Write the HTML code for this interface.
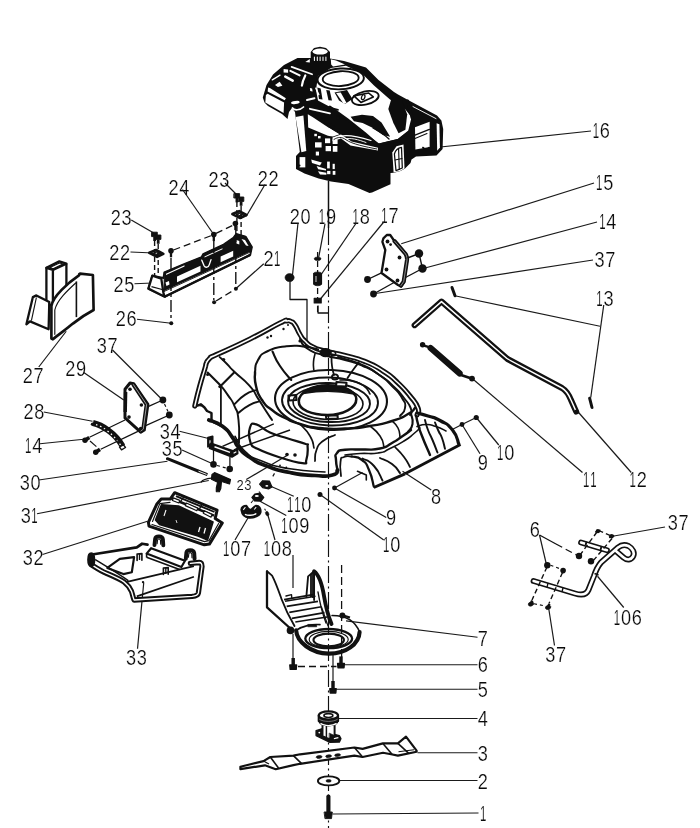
<!DOCTYPE html>
<html><head><meta charset="utf-8"><title>Exploded parts diagram</title>
<style>
html,body{margin:0;padding:0;background:#fff;font-family:"Liberation Sans",sans-serif;}
svg{display:block}
svg text{font-family:"Liberation Sans",sans-serif;}
</style></head><body>
<svg width="700" height="828" viewBox="0 0 700 828">
<rect width="700" height="828" fill="#fff"/>
<defs><filter id="idf" x="0" y="0" width="700" height="828" filterUnits="userSpaceOnUse" color-interpolation-filters="sRGB"><feOffset dx="0" dy="0"/></filter></defs>
<g id="p_labels">
<g id="lblgrp" filter="url(#idf)">
<text y="137.80" font-size="21.40" fill="#0a0a0a" stroke="#fff" stroke-width="0.220"><tspan x="592.69" textLength="6.34" lengthAdjust="spacingAndGlyphs">1</tspan><tspan x="599.87" textLength="10.11" lengthAdjust="spacingAndGlyphs">6</tspan></text>
<text y="190.00" font-size="21.40" fill="#0a0a0a" stroke="#fff" stroke-width="0.220"><tspan x="595.99" textLength="6.34" lengthAdjust="spacingAndGlyphs">1</tspan><tspan x="603.17" textLength="10.11" lengthAdjust="spacingAndGlyphs">5</tspan></text>
<text y="229.10" font-size="21.40" fill="#0a0a0a" stroke="#fff" stroke-width="0.220"><tspan x="599.19" textLength="6.34" lengthAdjust="spacingAndGlyphs">1</tspan><tspan x="606.37" textLength="10.11" lengthAdjust="spacingAndGlyphs">4</tspan></text>
<text y="267.20" font-size="21.40" fill="#0a0a0a" stroke="#fff" stroke-width="0.220"><tspan x="594.58" textLength="10.11" lengthAdjust="spacingAndGlyphs">3</tspan><tspan x="605.25" textLength="10.11" lengthAdjust="spacingAndGlyphs">7</tspan></text>
<text y="306.25" font-size="21.40" fill="#0a0a0a" stroke="#fff" stroke-width="0.220"><tspan x="596.34" textLength="6.34" lengthAdjust="spacingAndGlyphs">1</tspan><tspan x="603.52" textLength="10.11" lengthAdjust="spacingAndGlyphs">3</tspan></text>
<text y="460.00" font-size="21.40" fill="#0a0a0a" stroke="#fff" stroke-width="0.220"><tspan x="497.09" textLength="6.34" lengthAdjust="spacingAndGlyphs">1</tspan><tspan x="504.27" textLength="10.11" lengthAdjust="spacingAndGlyphs">0</tspan></text>
<text y="469.50" font-size="21.40" fill="#0a0a0a" stroke="#fff" stroke-width="0.220"><tspan x="477.78" textLength="10.11" lengthAdjust="spacingAndGlyphs">9</tspan></text>
<text y="503.75" font-size="21.40" fill="#0a0a0a" stroke="#fff" stroke-width="0.220"><tspan x="431.03" textLength="10.11" lengthAdjust="spacingAndGlyphs">8</tspan></text>
<text y="487.00" font-size="21.40" fill="#0a0a0a" stroke="#fff" stroke-width="0.220"><tspan x="583.09" textLength="6.34" lengthAdjust="spacingAndGlyphs">1</tspan><tspan x="590.18" textLength="6.34" lengthAdjust="spacingAndGlyphs">1</tspan></text>
<text y="487.00" font-size="21.40" fill="#0a0a0a" stroke="#fff" stroke-width="0.220"><tspan x="629.59" textLength="6.34" lengthAdjust="spacingAndGlyphs">1</tspan><tspan x="636.77" textLength="10.11" lengthAdjust="spacingAndGlyphs">2</tspan></text>
<text y="525.00" font-size="21.40" fill="#0a0a0a" stroke="#fff" stroke-width="0.220"><tspan x="386.03" textLength="10.11" lengthAdjust="spacingAndGlyphs">9</tspan></text>
<text y="552.00" font-size="21.40" fill="#0a0a0a" stroke="#fff" stroke-width="0.220"><tspan x="383.09" textLength="6.34" lengthAdjust="spacingAndGlyphs">1</tspan><tspan x="390.27" textLength="10.11" lengthAdjust="spacingAndGlyphs">0</tspan></text>
<text y="530.00" font-size="21.40" fill="#0a0a0a" stroke="#fff" stroke-width="0.220"><tspan x="667.78" textLength="10.11" lengthAdjust="spacingAndGlyphs">3</tspan><tspan x="678.45" textLength="10.11" lengthAdjust="spacingAndGlyphs">7</tspan></text>
<text y="537.00" font-size="21.40" fill="#0a0a0a" stroke="#fff" stroke-width="0.220"><tspan x="529.78" textLength="10.11" lengthAdjust="spacingAndGlyphs">6</tspan></text>
<text y="625.00" font-size="21.40" fill="#0a0a0a" stroke="#fff" stroke-width="0.220"><tspan x="613.84" textLength="6.34" lengthAdjust="spacingAndGlyphs">1</tspan><tspan x="621.02" textLength="10.11" lengthAdjust="spacingAndGlyphs">0</tspan><tspan x="631.69" textLength="10.11" lengthAdjust="spacingAndGlyphs">6</tspan></text>
<text y="662.00" font-size="21.40" fill="#0a0a0a" stroke="#fff" stroke-width="0.220"><tspan x="545.28" textLength="10.11" lengthAdjust="spacingAndGlyphs">3</tspan><tspan x="555.95" textLength="10.11" lengthAdjust="spacingAndGlyphs">7</tspan></text>
<text y="645.50" font-size="21.40" fill="#0a0a0a" stroke="#fff" stroke-width="0.220"><tspan x="477.78" textLength="10.11" lengthAdjust="spacingAndGlyphs">7</tspan></text>
<text y="672.25" font-size="21.40" fill="#0a0a0a" stroke="#fff" stroke-width="0.220"><tspan x="477.78" textLength="10.11" lengthAdjust="spacingAndGlyphs">6</tspan></text>
<text y="697.25" font-size="21.40" fill="#0a0a0a" stroke="#fff" stroke-width="0.220"><tspan x="477.78" textLength="10.11" lengthAdjust="spacingAndGlyphs">5</tspan></text>
<text y="726.00" font-size="21.40" fill="#0a0a0a" stroke="#fff" stroke-width="0.220"><tspan x="477.78" textLength="10.11" lengthAdjust="spacingAndGlyphs">4</tspan></text>
<text y="761.00" font-size="21.40" fill="#0a0a0a" stroke="#fff" stroke-width="0.220"><tspan x="477.78" textLength="10.11" lengthAdjust="spacingAndGlyphs">3</tspan></text>
<text y="788.50" font-size="21.40" fill="#0a0a0a" stroke="#fff" stroke-width="0.220"><tspan x="477.78" textLength="10.11" lengthAdjust="spacingAndGlyphs">2</tspan></text>
<text y="821.00" font-size="21.40" fill="#0a0a0a" stroke="#fff" stroke-width="0.220"><tspan x="480.09" textLength="6.34" lengthAdjust="spacingAndGlyphs">1</tspan></text>
<text y="665.00" font-size="21.40" fill="#0a0a0a" stroke="#fff" stroke-width="0.220"><tspan x="126.03" textLength="10.11" lengthAdjust="spacingAndGlyphs">3</tspan><tspan x="136.70" textLength="10.11" lengthAdjust="spacingAndGlyphs">3</tspan></text>
<text y="565.00" font-size="21.40" fill="#0a0a0a" stroke="#fff" stroke-width="0.220"><tspan x="22.78" textLength="10.11" lengthAdjust="spacingAndGlyphs">3</tspan><tspan x="33.45" textLength="10.11" lengthAdjust="spacingAndGlyphs">2</tspan></text>
<text y="523.00" font-size="21.40" fill="#0a0a0a" stroke="#fff" stroke-width="0.220"><tspan x="20.78" textLength="10.11" lengthAdjust="spacingAndGlyphs">3</tspan><tspan x="31.35" textLength="6.34" lengthAdjust="spacingAndGlyphs">1</tspan></text>
<text y="489.50" font-size="21.40" fill="#0a0a0a" stroke="#fff" stroke-width="0.220"><tspan x="19.78" textLength="10.11" lengthAdjust="spacingAndGlyphs">3</tspan><tspan x="30.45" textLength="10.11" lengthAdjust="spacingAndGlyphs">0</tspan></text>
<text y="452.50" font-size="21.40" fill="#0a0a0a" stroke="#fff" stroke-width="0.220"><tspan x="25.09" textLength="6.34" lengthAdjust="spacingAndGlyphs">1</tspan><tspan x="32.27" textLength="10.11" lengthAdjust="spacingAndGlyphs">4</tspan></text>
<text y="418.75" font-size="21.40" fill="#0a0a0a" stroke="#fff" stroke-width="0.220"><tspan x="23.53" textLength="10.11" lengthAdjust="spacingAndGlyphs">2</tspan><tspan x="34.20" textLength="10.11" lengthAdjust="spacingAndGlyphs">8</tspan></text>
<text y="376.00" font-size="21.40" fill="#0a0a0a" stroke="#fff" stroke-width="0.220"><tspan x="65.28" textLength="10.11" lengthAdjust="spacingAndGlyphs">2</tspan><tspan x="75.95" textLength="10.11" lengthAdjust="spacingAndGlyphs">9</tspan></text>
<text y="352.50" font-size="21.40" fill="#0a0a0a" stroke="#fff" stroke-width="0.220"><tspan x="96.78" textLength="10.11" lengthAdjust="spacingAndGlyphs">3</tspan><tspan x="107.45" textLength="10.11" lengthAdjust="spacingAndGlyphs">7</tspan></text>
<text y="382.50" font-size="21.40" fill="#0a0a0a" stroke="#fff" stroke-width="0.220"><tspan x="22.78" textLength="10.11" lengthAdjust="spacingAndGlyphs">2</tspan><tspan x="33.45" textLength="10.11" lengthAdjust="spacingAndGlyphs">7</tspan></text>
<text y="325.50" font-size="21.40" fill="#0a0a0a" stroke="#fff" stroke-width="0.220"><tspan x="115.78" textLength="10.11" lengthAdjust="spacingAndGlyphs">2</tspan><tspan x="126.45" textLength="10.11" lengthAdjust="spacingAndGlyphs">6</tspan></text>
<text y="292.00" font-size="21.40" fill="#0a0a0a" stroke="#fff" stroke-width="0.220"><tspan x="113.53" textLength="10.11" lengthAdjust="spacingAndGlyphs">2</tspan><tspan x="124.20" textLength="10.11" lengthAdjust="spacingAndGlyphs">5</tspan></text>
<text y="259.50" font-size="21.40" fill="#0a0a0a" stroke="#fff" stroke-width="0.220"><tspan x="109.28" textLength="10.11" lengthAdjust="spacingAndGlyphs">2</tspan><tspan x="119.95" textLength="10.11" lengthAdjust="spacingAndGlyphs">2</tspan></text>
<text y="225.00" font-size="21.40" fill="#0a0a0a" stroke="#fff" stroke-width="0.220"><tspan x="110.78" textLength="10.11" lengthAdjust="spacingAndGlyphs">2</tspan><tspan x="121.45" textLength="10.11" lengthAdjust="spacingAndGlyphs">3</tspan></text>
<text y="194.50" font-size="21.40" fill="#0a0a0a" stroke="#fff" stroke-width="0.220"><tspan x="168.53" textLength="10.11" lengthAdjust="spacingAndGlyphs">2</tspan><tspan x="179.20" textLength="10.11" lengthAdjust="spacingAndGlyphs">4</tspan></text>
<text y="187.00" font-size="21.40" fill="#0a0a0a" stroke="#fff" stroke-width="0.220"><tspan x="208.53" textLength="10.11" lengthAdjust="spacingAndGlyphs">2</tspan><tspan x="219.20" textLength="10.11" lengthAdjust="spacingAndGlyphs">3</tspan></text>
<text y="186.00" font-size="21.40" fill="#0a0a0a" stroke="#fff" stroke-width="0.220"><tspan x="257.78" textLength="10.11" lengthAdjust="spacingAndGlyphs">2</tspan><tspan x="268.45" textLength="10.11" lengthAdjust="spacingAndGlyphs">2</tspan></text>
<text y="265.50" font-size="21.40" fill="#0a0a0a" stroke="#fff" stroke-width="0.220"><tspan x="263.53" textLength="10.11" lengthAdjust="spacingAndGlyphs">2</tspan><tspan x="274.10" textLength="6.34" lengthAdjust="spacingAndGlyphs">1</tspan></text>
<text y="223.75" font-size="21.40" fill="#0a0a0a" stroke="#fff" stroke-width="0.220"><tspan x="289.78" textLength="10.11" lengthAdjust="spacingAndGlyphs">2</tspan><tspan x="300.45" textLength="10.11" lengthAdjust="spacingAndGlyphs">0</tspan></text>
<text y="223.75" font-size="21.40" fill="#0a0a0a" stroke="#fff" stroke-width="0.220"><tspan x="318.84" textLength="6.34" lengthAdjust="spacingAndGlyphs">1</tspan><tspan x="326.02" textLength="10.11" lengthAdjust="spacingAndGlyphs">9</tspan></text>
<text y="223.75" font-size="21.40" fill="#0a0a0a" stroke="#fff" stroke-width="0.220"><tspan x="352.59" textLength="6.34" lengthAdjust="spacingAndGlyphs">1</tspan><tspan x="359.77" textLength="10.11" lengthAdjust="spacingAndGlyphs">8</tspan></text>
<text y="222.50" font-size="21.40" fill="#0a0a0a" stroke="#fff" stroke-width="0.220"><tspan x="381.34" textLength="6.34" lengthAdjust="spacingAndGlyphs">1</tspan><tspan x="388.52" textLength="10.11" lengthAdjust="spacingAndGlyphs">7</tspan></text>
<text y="438.75" font-size="21.40" fill="#0a0a0a" stroke="#fff" stroke-width="0.220"><tspan x="159.78" textLength="10.11" lengthAdjust="spacingAndGlyphs">3</tspan><tspan x="170.45" textLength="10.11" lengthAdjust="spacingAndGlyphs">4</tspan></text>
<text y="456.25" font-size="21.40" fill="#0a0a0a" stroke="#fff" stroke-width="0.220"><tspan x="161.78" textLength="10.11" lengthAdjust="spacingAndGlyphs">3</tspan><tspan x="172.45" textLength="10.11" lengthAdjust="spacingAndGlyphs">5</tspan></text>
<text y="512.00" font-size="21.40" fill="#0a0a0a" stroke="#fff" stroke-width="0.220"><tspan x="287.09" textLength="6.34" lengthAdjust="spacingAndGlyphs">1</tspan><tspan x="294.18" textLength="6.34" lengthAdjust="spacingAndGlyphs">1</tspan><tspan x="301.36" textLength="10.11" lengthAdjust="spacingAndGlyphs">0</tspan></text>
<text y="532.50" font-size="21.40" fill="#0a0a0a" stroke="#fff" stroke-width="0.220"><tspan x="281.34" textLength="6.34" lengthAdjust="spacingAndGlyphs">1</tspan><tspan x="288.52" textLength="10.11" lengthAdjust="spacingAndGlyphs">0</tspan><tspan x="299.19" textLength="10.11" lengthAdjust="spacingAndGlyphs">9</tspan></text>
<text y="556.25" font-size="21.40" fill="#0a0a0a" stroke="#fff" stroke-width="0.220"><tspan x="223.09" textLength="6.34" lengthAdjust="spacingAndGlyphs">1</tspan><tspan x="230.27" textLength="10.11" lengthAdjust="spacingAndGlyphs">0</tspan><tspan x="240.94" textLength="10.11" lengthAdjust="spacingAndGlyphs">7</tspan></text>
<text y="556.25" font-size="21.40" fill="#0a0a0a" stroke="#fff" stroke-width="0.220"><tspan x="263.84" textLength="6.34" lengthAdjust="spacingAndGlyphs">1</tspan><tspan x="271.02" textLength="10.11" lengthAdjust="spacingAndGlyphs">0</tspan><tspan x="281.69" textLength="10.11" lengthAdjust="spacingAndGlyphs">8</tspan></text>
<text y="489.50" font-size="15.34" fill="#0a0a0a" stroke="#fff" stroke-width="0.158"><tspan x="236.59" textLength="7.25" lengthAdjust="spacingAndGlyphs">2</tspan><tspan x="244.24" textLength="7.25" lengthAdjust="spacingAndGlyphs">3</tspan></text>
</g>
<line x1="431" y1="148" x2="591" y2="131" stroke="#1a1a1a" stroke-width="1.2075" stroke-linecap="butt"/>
<line x1="401.25" y1="243.75" x2="594" y2="183" stroke="#1a1a1a" stroke-width="1.2075" stroke-linecap="butt"/>
<line x1="425" y1="268" x2="597" y2="222" stroke="#1a1a1a" stroke-width="1.2075" stroke-linecap="butt"/>
<line x1="373.75" y1="293.75" x2="593" y2="260" stroke="#1a1a1a" stroke-width="1.2075" stroke-linecap="butt"/>
<line x1="603.75" y1="305" x2="590.75" y2="397.5" stroke="#1a1a1a" stroke-width="1.2075" stroke-linecap="butt"/>
<line x1="600" y1="326.25" x2="456" y2="296" stroke="#1a1a1a" stroke-width="1.2075" stroke-linecap="butt"/>
<line x1="498.75" y1="445" x2="476.25" y2="417.5" stroke="#1a1a1a" stroke-width="1.2075" stroke-linecap="butt"/>
<line x1="480" y1="453.75" x2="462" y2="424.5" stroke="#1a1a1a" stroke-width="1.2075" stroke-linecap="butt"/>
<line x1="462" y1="424.5" x2="476.25" y2="417.5" stroke="#1a1a1a" stroke-width="1.2075" stroke-linecap="butt"/>
<line x1="462" y1="424.5" x2="451.25" y2="430" stroke="#1a1a1a" stroke-width="1.2075" stroke-linecap="butt"/>
<line x1="431.25" y1="490" x2="402.5" y2="471.25" stroke="#1a1a1a" stroke-width="1.2075" stroke-linecap="butt"/>
<line x1="582.5" y1="472.5" x2="472.5" y2="378.75" stroke="#1a1a1a" stroke-width="1.2075" stroke-linecap="butt"/>
<line x1="631.25" y1="472.5" x2="577.5" y2="411.25" stroke="#1a1a1a" stroke-width="1.2075" stroke-linecap="butt"/>
<line x1="386.25" y1="517.5" x2="334.5" y2="488" stroke="#1a1a1a" stroke-width="1.2075" stroke-linecap="butt"/>
<line x1="334.5" y1="488" x2="362.5" y2="472.5" stroke="#1a1a1a" stroke-width="1.2075" stroke-linecap="butt"/>
<line x1="383.75" y1="540" x2="320" y2="494.5" stroke="#1a1a1a" stroke-width="1.2075" stroke-linecap="butt"/>
<line x1="665" y1="527" x2="612.5" y2="536.25" stroke="#1a1a1a" stroke-width="1.2075" stroke-linecap="butt"/>
<line x1="539.5" y1="535" x2="546.25" y2="563.75" stroke="#1a1a1a" stroke-width="1.2075" stroke-linecap="butt"/>
<line x1="623.75" y1="607.5" x2="597.5" y2="576.25" stroke="#1a1a1a" stroke-width="1.2075" stroke-linecap="butt"/>
<line x1="554.5" y1="645.5" x2="548.75" y2="608.75" stroke="#1a1a1a" stroke-width="1.2075" stroke-linecap="butt"/>
<line x1="477.5" y1="637.25" x2="346" y2="620.8" stroke="#1a1a1a" stroke-width="1.2075" stroke-linecap="butt"/>
<line x1="477.5" y1="664.75" x2="345" y2="664.75" stroke="#1a1a1a" stroke-width="1.2075" stroke-linecap="butt"/>
<line x1="477.5" y1="689.25" x2="336.25" y2="689.25" stroke="#1a1a1a" stroke-width="1.2075" stroke-linecap="butt"/>
<line x1="477.5" y1="718.5" x2="338.75" y2="718.5" stroke="#1a1a1a" stroke-width="1.2075" stroke-linecap="butt"/>
<line x1="477.5" y1="752.75" x2="417.5" y2="752.75" stroke="#1a1a1a" stroke-width="1.2075" stroke-linecap="butt"/>
<line x1="477.5" y1="780.5" x2="338.75" y2="780.5" stroke="#1a1a1a" stroke-width="1.2075" stroke-linecap="butt"/>
<line x1="478.5" y1="813" x2="332.5" y2="814" stroke="#1a1a1a" stroke-width="1.2075" stroke-linecap="butt"/>
<line x1="137.5" y1="648.75" x2="143.75" y2="582.5" stroke="#1a1a1a" stroke-width="1.2075" stroke-linecap="butt"/>
<line x1="42.5" y1="554.5" x2="147.5" y2="521.25" stroke="#1a1a1a" stroke-width="1.2075" stroke-linecap="butt"/>
<line x1="37" y1="513.75" x2="208.75" y2="480.5" stroke="#1a1a1a" stroke-width="1.2075" stroke-linecap="butt"/>
<line x1="38.75" y1="480" x2="167.5" y2="461.25" stroke="#1a1a1a" stroke-width="1.2075" stroke-linecap="butt"/>
<line x1="40" y1="443.75" x2="83.75" y2="439.25" stroke="#1a1a1a" stroke-width="1.2075" stroke-linecap="butt"/>
<line x1="43.75" y1="412" x2="92.5" y2="421.25" stroke="#1a1a1a" stroke-width="1.2075" stroke-linecap="butt"/>
<line x1="83.75" y1="372.5" x2="123.75" y2="400" stroke="#1a1a1a" stroke-width="1.2075" stroke-linecap="butt"/>
<line x1="112.5" y1="350" x2="162.5" y2="400" stroke="#1a1a1a" stroke-width="1.2075" stroke-linecap="butt"/>
<line x1="38.75" y1="367" x2="66.25" y2="331.25" stroke="#1a1a1a" stroke-width="1.2075" stroke-linecap="butt"/>
<line x1="137" y1="319.25" x2="171.25" y2="323.25" stroke="#1a1a1a" stroke-width="1.2075" stroke-linecap="butt"/>
<line x1="134.5" y1="283.75" x2="152.5" y2="283" stroke="#1a1a1a" stroke-width="1.2075" stroke-linecap="butt"/>
<line x1="130.5" y1="252" x2="153.75" y2="253" stroke="#1a1a1a" stroke-width="1.2075" stroke-linecap="butt"/>
<line x1="131.25" y1="220" x2="153.75" y2="233" stroke="#1a1a1a" stroke-width="1.2075" stroke-linecap="butt"/>
<line x1="182.5" y1="189.5" x2="213.75" y2="234.5" stroke="#1a1a1a" stroke-width="1.2075" stroke-linecap="butt"/>
<line x1="225" y1="183" x2="237" y2="195" stroke="#1a1a1a" stroke-width="1.2075" stroke-linecap="butt"/>
<line x1="265" y1="184.5" x2="246.25" y2="216.25" stroke="#1a1a1a" stroke-width="1.2075" stroke-linecap="butt"/>
<line x1="263.75" y1="263.75" x2="235.75" y2="288.75" stroke="#1a1a1a" stroke-width="1.2075" stroke-linecap="butt"/>
<line x1="298" y1="223" x2="292.5" y2="275" stroke="#1a1a1a" stroke-width="1.2075" stroke-linecap="butt"/>
<line x1="325" y1="223.75" x2="318.75" y2="257" stroke="#1a1a1a" stroke-width="1.2075" stroke-linecap="butt"/>
<line x1="356.25" y1="223" x2="320" y2="276.25" stroke="#1a1a1a" stroke-width="1.2075" stroke-linecap="butt"/>
<line x1="383.75" y1="222" x2="320" y2="299.5" stroke="#1a1a1a" stroke-width="1.2075" stroke-linecap="butt"/>
<line x1="179.5" y1="431.25" x2="209.5" y2="438.75" stroke="#1a1a1a" stroke-width="1.2075" stroke-linecap="butt"/>
<line x1="182" y1="450" x2="212.5" y2="463.75" stroke="#1a1a1a" stroke-width="1.2075" stroke-linecap="butt"/>
<line x1="246.25" y1="479.5" x2="287" y2="455.5" stroke="#1a1a1a" stroke-width="1.2075" stroke-linecap="butt"/>
<line x1="293.75" y1="496.25" x2="269.5" y2="485.75" stroke="#1a1a1a" stroke-width="1.2075" stroke-linecap="butt"/>
<line x1="286.25" y1="515.5" x2="260" y2="501.25" stroke="#1a1a1a" stroke-width="1.2075" stroke-linecap="butt"/>
<line x1="235" y1="540" x2="248.25" y2="517.5" stroke="#1a1a1a" stroke-width="1.2075" stroke-linecap="butt"/>
<line x1="275" y1="540" x2="267.5" y2="513.75" stroke="#1a1a1a" stroke-width="1.2075" stroke-linecap="butt"/>
</g>
<g id="p_engine">
<path d="M310.7,58 L297.5,58 L284,65 L273,74.5 L266.5,85 L262.8,97.5 L264.5,102.5 L268,106 L282,114 L287.5,119 L289,112 L292,108 L295,112 L299.8,152 L296,156 L296,169 L304.5,173.5 L318.6,178.5 L331,181.5 L348.5,184 L369.5,193 L372,192.6 L390.5,184.2 L390.5,173 L394,172.8 L400.5,171 L405,168.6 L410.5,163 L411.5,159.5 L416,156.5 L436.5,155.5 L442.6,149 L443.2,129 L441.4,120.5 L437,115.6 L409,100.6 L398,94.6 L394,92 L378.5,80 L366,67.5 L344,61 L330,58.5 L330,52 L326,48 L320,46.8 L314,48 L310.7,52 Z" fill="#0d0d0d" stroke="none" stroke-width="0.0" stroke-linejoin="round" stroke-linecap="round"/>
<ellipse cx="320.1" cy="51.6" rx="7.6" ry="3.0" fill="#fff" stroke="none" stroke-width="0.0"/>
<line x1="314.4" y1="57" x2="314.4" y2="60.4" stroke="#fff" stroke-width="1.035" stroke-linecap="round"/>
<line x1="317.3" y1="57" x2="317.3" y2="60.4" stroke="#fff" stroke-width="1.035" stroke-linecap="round"/>
<line x1="320.1" y1="57" x2="320.1" y2="60.4" stroke="#fff" stroke-width="1.035" stroke-linecap="round"/>
<line x1="323" y1="57" x2="323" y2="60.4" stroke="#fff" stroke-width="1.035" stroke-linecap="round"/>
<line x1="325.9" y1="57" x2="325.9" y2="60.4" stroke="#fff" stroke-width="1.035" stroke-linecap="round"/>
<path d="M305.3,61.9 L309.8,58.9 L309.8,62.5 Z" fill="#fff" stroke="none" stroke-width="0.0" stroke-linejoin="round" stroke-linecap="round"/>
<path d="M330.8,59.2 L336,60.5 L345,64.5 L333,66.5 L331.2,64.6 Z" fill="#fff" stroke="none" stroke-width="0.0" stroke-linejoin="round" stroke-linecap="round"/>
<path d="M331,68 L346,65.8 L362,73.5 L374,85.5 L390,99.5 L405,109 L410.5,116 L411.5,122 L408.5,131 L398,139 L379,143.5 L366,134 L350,121 L333,108.5 L318,100.5 L316,90 L318,76 Z" fill="#fff" stroke="none" stroke-width="0.0" stroke-linejoin="round" stroke-linecap="round"/>
<ellipse cx="340.7" cy="78.9" rx="23.2" ry="10.4" fill="#fff" stroke="#0d0d0d" stroke-width="1.9549999999999998" transform="rotate(-3 340.7 78.9)"/>
<ellipse cx="340.7" cy="78.6" rx="18.0" ry="7.4" fill="#fff" stroke="#0d0d0d" stroke-width="1.8399999999999999" transform="rotate(-3 340.7 78.6)"/>
<path d="M334.5,92.5 L347,90 L352.5,99 L345,104 L339,100.5 Z" fill="#0d0d0d" stroke="none" stroke-width="0.0" stroke-linejoin="round" stroke-linecap="round"/>
<path d="M336.1,92.9 L340.7,92.6 L346.6,103.1 L343.8,103.9 Z" fill="#fff" stroke="none" stroke-width="0.0" stroke-linejoin="round" stroke-linecap="round"/>
<path d="M317.3,87.5 L320.7,88.5 L322.5,99.5 L319,99 Z" fill="#0d0d0d" stroke="none" stroke-width="0.0" stroke-linejoin="round" stroke-linecap="round"/>
<path d="M326.2,90 L329.7,90.5 L332,100.5 L328.5,100.3 Z" fill="#0d0d0d" stroke="none" stroke-width="0.0" stroke-linejoin="round" stroke-linecap="round"/>
<ellipse cx="365.3" cy="98" rx="13.6" ry="6.6" fill="#fff" stroke="#0d0d0d" stroke-width="1.8399999999999999" transform="rotate(-12 365.3 98)"/>
<path d="M353.9,95.9 L368.7,93 L373.3,96.9 L360.9,102.4 Z" fill="#fff" stroke="#0d0d0d" stroke-width="1.6099999999999999" stroke-linejoin="round" stroke-linecap="round"/>
<ellipse cx="363.2" cy="97.2" rx="1.6" ry="2.6" fill="#fff" stroke="#0d0d0d" stroke-width="1.265" transform="rotate(20 363.2 97.2)"/>
<line x1="315" y1="104" x2="338" y2="109.8" stroke="#0d0d0d" stroke-width="1.8399999999999999" stroke-linecap="round"/>
<line x1="315" y1="116.5" x2="332" y2="130" stroke="#0d0d0d" stroke-width="2.76" stroke-linecap="round"/>
<path d="M336,115.5 L339.5,115.5 L339.5,119 L336,119 Z" fill="#0d0d0d" stroke="none" stroke-width="0.0" stroke-linejoin="round" stroke-linecap="round"/>
<path d="M350.6,116.7 L362,114.8 L373,116 L381.5,122.5 L390.2,136.8 L383,135 L373,128 L362.6,123 L354,121.3 Z" fill="#0d0d0d" stroke="none" stroke-width="0.0" stroke-linejoin="round" stroke-linecap="round"/>
<path d="M388.3,109.1 L391,100 L394,96.3 L402,100.6 L407.2,114.3 L405.4,129.7 L398.6,133.3 L393.4,122.9 Z" fill="#0d0d0d" stroke="none" stroke-width="0.0" stroke-linejoin="round" stroke-linecap="round"/>
<path d="M373,128 C380,132 386,136 389,139" fill="none" stroke="#0d0d0d" stroke-width="1.38" stroke-linejoin="round" stroke-linecap="round" />
<path d="M330,107.2 L347,119.4 L364.3,133.1 L378,145.2 L398.6,140.2 L409.6,131.4 L412.6,119.4 L407.6,101" fill="none" stroke="#0d0d0d" stroke-width="2.9899999999999998" stroke-linejoin="round" stroke-linecap="round" />
<path d="M268.1,87.4 L269.9,88 L285.9,98.3 L284.7,100.2 L267.6,91.6 Z" fill="#fff" stroke="none" stroke-width="0.0" stroke-linejoin="round" stroke-linecap="round"/>
<path d="M265.9,95 L267.6,93.8 L284.1,102.4 L283.6,113 L265.3,102.4 Z" fill="#fff" stroke="none" stroke-width="0.0" stroke-linejoin="round" stroke-linecap="round"/>
<line x1="291.6" y1="66.9" x2="312.1" y2="74.3" stroke="#fff" stroke-width="1.7249999999999999" stroke-linecap="round"/>
<path d="M283.6,69.1 L288.1,69.6 L288.1,72.8 L283.6,72.4 Z" fill="#fff" stroke="none" stroke-width="0.0" stroke-linejoin="round" stroke-linecap="round"/>
<line x1="290.4" y1="70.9" x2="299.6" y2="75.4" stroke="#fff" stroke-width="2.07" stroke-linecap="round"/>
<line x1="285.3" y1="76.6" x2="292.7" y2="80.6" stroke="#fff" stroke-width="2.53" stroke-linecap="round"/>
<path d="M305.3,75.4 C303.5,79 302.3,82 301.9,85.7" fill="none" stroke="#fff" stroke-width="2.1849999999999996" stroke-linejoin="round" stroke-linecap="round" />
<line x1="272.3" y1="79.8" x2="280" y2="75.2" stroke="#fff" stroke-width="1.38" stroke-linecap="round"/>
<path d="M275,85.1 L279.6,81.7 L282.4,85.7 L277.9,86.9 Z" fill="#fff" stroke="none" stroke-width="0.0" stroke-linejoin="round" stroke-linecap="round"/>
<path d="M309.9,88 L312.1,88.5 L312.6,91.4 L310.2,91 Z" fill="#fff" stroke="none" stroke-width="0.0" stroke-linejoin="round" stroke-linecap="round"/>
<line x1="307" y1="100" x2="314.4" y2="98.3" stroke="#fff" stroke-width="2.07" stroke-linecap="round"/>
<line x1="315.8" y1="88.2" x2="318.8" y2="94.6" stroke="#fff" stroke-width="1.38" stroke-linecap="round"/>
<line x1="309.9" y1="108.8" x2="330" y2="113.3" stroke="#fff" stroke-width="1.8399999999999999" stroke-linecap="round"/>
<ellipse cx="295.3" cy="102.5" rx="4.4" ry="1.5" fill="#fff" stroke="none" stroke-width="0.0" transform="rotate(-8 295.3 102.5)"/>
<path d="M292.5,108 C294,110.5 300,110.5 303.5,107" fill="none" stroke="#fff" stroke-width="1.7249999999999999" stroke-linejoin="round" stroke-linecap="round" />
<path d="M295.6,117 L303.4,115.4 L306.3,151 L301.4,152.2 Z" fill="#fff" stroke="none" stroke-width="0.0" stroke-linejoin="round" stroke-linecap="round"/>
<path d="M307.8,114.2 L312.5,117 L338.5,134.2 L331.5,133.8 L328.5,136 L308.2,127.5 Z" fill="#fff" stroke="none" stroke-width="0.0" stroke-linejoin="round" stroke-linecap="round"/>
<line x1="308.1" y1="111.4" x2="343.6" y2="133.1" stroke="#0d0d0d" stroke-width="2.53" stroke-linecap="round"/>
<path d="M314.3,133.8 L316.9,133.8 L316.9,136.2 L314.3,136.2 Z" fill="#fff" stroke="none" stroke-width="0.0" stroke-linejoin="round" stroke-linecap="round"/>
<path d="M318,136 L320.6,136 L320.6,138.4 L318,138.4 Z" fill="#fff" stroke="none" stroke-width="0.0" stroke-linejoin="round" stroke-linecap="round"/>
<path d="M325,138.4 L330.2,138.4 L330.2,143.2 L325,143.2 Z" fill="#fff" stroke="none" stroke-width="0.0" stroke-linejoin="round" stroke-linecap="round"/>
<path d="M332.6,139.4 L337.6,139.4 L337.6,144 L332.6,144 Z" fill="#fff" stroke="none" stroke-width="0.0" stroke-linejoin="round" stroke-linecap="round"/>
<path d="M315,142.3 L321.6,142.3 L321.6,147.5 L315,147.5 Z" fill="#fff" stroke="none" stroke-width="0.0" stroke-linejoin="round" stroke-linecap="round"/>
<path d="M325.6,146 L331,146 L331,151.2 L325.6,151.2 Z" fill="#fff" stroke="none" stroke-width="0.0" stroke-linejoin="round" stroke-linecap="round"/>
<path d="M332.8,146 L337.4,146 L337.4,151.8 L332.8,151.8 Z" fill="#fff" stroke="none" stroke-width="0.0" stroke-linejoin="round" stroke-linecap="round"/>
<path d="M315.8,151.6 L319,151.6 L319,155.5 L315.8,155.5 Z" fill="#fff" stroke="none" stroke-width="0.0" stroke-linejoin="round" stroke-linecap="round"/>
<path d="M327.1,161.6 L329.8,161.6 L329.8,168.4 L327.1,168.4 Z" fill="#fff" stroke="none" stroke-width="0.0" stroke-linejoin="round" stroke-linecap="round"/>
<path d="M332.6,163.8 L334.8,163.8 L334.8,169.1 L332.6,169.1 Z" fill="#fff" stroke="none" stroke-width="0.0" stroke-linejoin="round" stroke-linecap="round"/>
<path d="M327.1,170.9 L330.4,170.9 L330.4,174.2 L327.1,174.2 Z" fill="#fff" stroke="none" stroke-width="0.0" stroke-linejoin="round" stroke-linecap="round"/>
<path d="M332.7,170.9 L335.4,170.9 L335.4,174.8 L332.7,174.8 Z" fill="#fff" stroke="none" stroke-width="0.0" stroke-linejoin="round" stroke-linecap="round"/>
<path d="M311.2,159.6 L321.8,162.6 L320,165.6 L312,163 Z" fill="#fff" stroke="none" stroke-width="0.0" stroke-linejoin="round" stroke-linecap="round"/>
<path d="M316.6,166 L326,169 L326,170.4 L318.2,169.2 Z" fill="#fff" stroke="none" stroke-width="0.0" stroke-linejoin="round" stroke-linecap="round"/>
<path d="M318,171.2 L326.4,172.8 L326.4,174.8 L320,174.4 Z" fill="#fff" stroke="none" stroke-width="0.0" stroke-linejoin="round" stroke-linecap="round"/>
<path d="M299.6,157.1 L305.3,157.1 L305.3,167.4 L299.6,167.4 Z" fill="#fff" stroke="none" stroke-width="0.0" stroke-linejoin="round" stroke-linecap="round"/>
<circle cx="299.6" cy="165.5" r="0.9" fill="#0d0d0d"/>
<path d="M341,136 C349,134.5 360,137 371,140.5" fill="none" stroke="#fff" stroke-width="1.15" stroke-linejoin="round" stroke-linecap="round" />
<path d="M344,139 C351,137.5 358,139.5 366,142.5" fill="none" stroke="#fff" stroke-width="0.9199999999999999" stroke-linejoin="round" stroke-linecap="round" />
<path d="M392.3,152.5 L396.5,146.2 L403.5,144.6 L404.5,168.5 L400,171 L393.6,172.6 Z" fill="#fff" stroke="none" stroke-width="0.0" stroke-linejoin="round" stroke-linecap="round"/>
<path d="M394.4,154 C395.5,150 398,148 401.5,147.4 L402.3,168 L396,170.6 Z" fill="none" stroke="#0d0d0d" stroke-width="1.265" stroke-linejoin="round" stroke-linecap="round" />
<line x1="398.6" y1="149" x2="399.3" y2="169.5" stroke="#0d0d0d" stroke-width="1.15" stroke-linecap="round"/>
<line x1="395" y1="160" x2="402" y2="158.6" stroke="#0d0d0d" stroke-width="1.035" stroke-linecap="round"/>
<line x1="413" y1="106.6" x2="436" y2="118.6" stroke="#fff" stroke-width="0.9199999999999999" stroke-linecap="round"/>
<path d="M415,127.2 L429.6,121.8 L429.6,147 L415.4,149.4 Z" fill="#fff" stroke="none" stroke-width="0.0" stroke-linejoin="round" stroke-linecap="round"/>
<line x1="415" y1="135.2" x2="429.4" y2="129.4" stroke="#0d0d0d" stroke-width="1.38" stroke-linecap="round"/>
<line x1="415" y1="138.6" x2="427" y2="133.6" stroke="#0d0d0d" stroke-width="1.035" stroke-linecap="round"/>
<path d="M423,147.6 C424.5,150 427.5,150 429,147.8" fill="none" stroke="#0d0d0d" stroke-width="1.8399999999999999" stroke-linejoin="round" stroke-linecap="round" />
<path d="M436.6,123.2 L439.4,124.2 L439.9,147.6 L437.2,150.8 Z" fill="#fff" stroke="none" stroke-width="0.0" stroke-linejoin="round" stroke-linecap="round"/>
<path d="M332.5,137.6 L341,134.4 L351.5,141.4 L378,147.8 L378,150.4 L350.5,145.4 L341,138.4 L332.5,141.2 Z" fill="#fff" stroke="none" stroke-width="0.0" stroke-linejoin="round" stroke-linecap="round"/>
<path d="M334,139.4 C338,137 341.5,136.4 346,139.8 C352,144 366,147 377,149" fill="none" stroke="#0d0d0d" stroke-width="0.9199999999999999" stroke-linejoin="round" stroke-linecap="round" />
<path d="M329,128 L339.5,134.2 L333,136.6 L329,136 Z" fill="#fff" stroke="none" stroke-width="0.0" stroke-linejoin="round" stroke-linecap="round"/>
<path d="M336.6,116.2 L339.6,116.2 L339.6,119.2 L336.6,119.2 Z" fill="#0d0d0d" stroke="none" stroke-width="0.0" stroke-linejoin="round" stroke-linecap="round"/>
</g>
<g id="p_deck">
<line x1="328.5" y1="181" x2="328.5" y2="228" stroke="#111" stroke-width="1.4949999999999999" stroke-linecap="butt"/>
<line x1="328.5" y1="228" x2="328.5" y2="828" stroke="#111" stroke-width="1.15" stroke-dasharray="17 3.5 2 3.5" stroke-linecap="butt"/>
<path d="M194.6,406.3 L201,404.5 L204.5,407.5 L207,411 L211.5,413 L211.5,420 L214,422.5 L222.5,426.5" fill="none" stroke="#111" stroke-width="2.4149999999999996" stroke-linejoin="round" stroke-linecap="round"/>
<circle cx="195.2" cy="406.3" r="1.5" fill="#111"/>
<circle cx="200.9" cy="405.1" r="1.5" fill="#111"/>
<line x1="207.1" y1="372" x2="220.9" y2="385.7" stroke="#111" stroke-width="2.0929999999999995" stroke-linecap="butt"/>
<line x1="220.9" y1="385.7" x2="234.6" y2="372" stroke="#111" stroke-width="2.0929999999999995" stroke-linecap="butt"/>
<line x1="220.9" y1="386.5" x2="220.9" y2="427" stroke="#111" stroke-width="1.771" stroke-linecap="butt"/>
<circle cx="207.6" cy="374.4" r="1.5" fill="#111"/>
<circle cx="220" cy="386.6" r="1.7" fill="#111"/>
<circle cx="223.7" cy="359.6" r="1.6" fill="#111"/>
<path d="M219.70,357.10 C222.13,359.40 222.03,359.03 227.00,364.00 C231.97,368.97 227.13,364.77 234.60,372.00 C242.07,379.23 241.40,376.57 249.40,385.70 C257.40,394.83 253.07,390.97 258.60,399.40 C264.13,407.83 261.53,404.13 266.00,411.00 C270.47,417.87 270.00,417.00 272.00,420.00" fill="none" stroke="#111" stroke-width="1.9319999999999997" stroke-linejoin="round" stroke-linecap="round" />
<path d="M220.90,385.70 C223.17,388.77 223.13,388.03 227.70,394.90 C232.27,401.77 231.00,397.93 234.60,406.30 C238.20,414.67 237.03,407.77 238.50,420.00 C239.97,432.23 238.83,435.33 239.00,443.00" fill="none" stroke="#111" stroke-width="1.9319999999999997" stroke-linejoin="round" stroke-linecap="round" />
<path d="M234.60,404.00 C238.03,400.97 238.07,399.47 244.90,394.90 C251.73,390.33 251.70,391.83 255.10,390.30" fill="none" stroke="#111" stroke-width="1.9319999999999997" stroke-linejoin="round" stroke-linecap="round" />
<path d="M238.00,413.10 C241.80,410.43 242.53,408.90 249.40,405.10 C256.27,401.30 255.53,402.83 258.60,401.70" fill="none" stroke="#111" stroke-width="1.9319999999999997" stroke-linejoin="round" stroke-linecap="round" />
<path d="M194.80,406.00 C196.21,400.30 196.47,398.22 199.50,387.00 C202.53,375.78 202.89,375.65 204.90,368.60 C206.91,361.55 205.09,366.20 206.20,363.50 C207.31,360.80 206.86,361.67 208.60,359.60 C210.34,357.53 209.69,358.07 212.00,356.60 C214.31,355.13 204.90,359.98 216.30,354.70 C227.70,349.42 230.89,348.51 250.00,339.00 C269.11,329.49 269.05,328.40 280.00,323.00 C290.95,317.60 283.20,321.45 286.50,321.00 C289.80,320.55 288.45,320.30 291.00,321.50 C293.55,322.70 292.30,321.10 295.00,325.00 C297.70,328.90 297.00,329.70 300.00,334.50 C303.00,339.30 301.10,337.25 305.00,341.00 C308.90,344.75 307.00,344.00 313.00,347.00 C319.00,350.00 315.40,348.45 325.00,351.00 C334.60,353.55 333.00,352.35 345.00,355.50 C357.00,358.65 353.60,356.85 365.00,361.50 C376.40,366.15 373.40,364.85 383.00,371.00 C392.60,377.15 388.90,374.50 397.00,382.00 C405.10,389.50 403.70,388.20 410.00,396.00 C416.30,403.80 415.90,402.30 418.00,408.00 C420.10,413.70 417.30,412.90 417.00,415.00" fill="none" stroke="#111" stroke-width="5.175" stroke-linejoin="round" stroke-linecap="round" />
<path d="M194.80,406.00 C196.21,400.30 196.47,398.22 199.50,387.00 C202.53,375.78 202.89,375.65 204.90,368.60 C206.91,361.55 205.09,366.20 206.20,363.50 C207.31,360.80 206.86,361.67 208.60,359.60 C210.34,357.53 209.69,358.07 212.00,356.60 C214.31,355.13 204.90,359.98 216.30,354.70 C227.70,349.42 230.89,348.51 250.00,339.00 C269.11,329.49 269.05,328.40 280.00,323.00 C290.95,317.60 283.20,321.45 286.50,321.00 C289.80,320.55 288.45,320.30 291.00,321.50 C293.55,322.70 292.30,321.10 295.00,325.00 C297.70,328.90 297.00,329.70 300.00,334.50 C303.00,339.30 301.10,337.25 305.00,341.00 C308.90,344.75 307.00,344.00 313.00,347.00 C319.00,350.00 315.40,348.45 325.00,351.00 C334.60,353.55 333.00,352.35 345.00,355.50 C357.00,358.65 353.60,356.85 365.00,361.50 C376.40,366.15 373.40,364.85 383.00,371.00 C392.60,377.15 388.90,374.50 397.00,382.00 C405.10,389.50 403.70,388.20 410.00,396.00 C416.30,403.80 415.90,402.30 418.00,408.00 C420.10,413.70 417.30,412.90 417.00,415.00" fill="none" stroke="#fff" stroke-width="1.4949999999999999" stroke-linejoin="round" stroke-linecap="round" />
<path d="M300.00,339.00 C302.67,342.33 299.67,343.50 308.00,349.00 C316.33,354.50 312.67,351.83 325.00,355.50 C337.33,359.17 332.33,356.50 345.00,360.00 C357.67,363.50 351.33,360.83 363.00,366.00 C374.67,371.17 370.00,368.83 380.00,375.50 C390.00,382.17 385.00,378.50 393.00,386.00 C401.00,393.50 398.00,390.33 404.00,398.00 C410.00,405.67 409.00,403.33 411.00,409.00 C413.00,414.67 410.33,413.00 410.00,415.00" fill="none" stroke="#111" stroke-width="1.9319999999999997" stroke-linejoin="round" stroke-linecap="round" />
<circle cx="267.5" cy="337.5" r="1.2" fill="#111"/>
<circle cx="271" cy="336" r="1.2" fill="#111"/>
<circle cx="283.5" cy="329" r="1.2" fill="#111"/>
<circle cx="288" cy="325" r="1.0" fill="#111"/>
<circle cx="300" cy="341" r="1.6" fill="#111"/>
<circle cx="305.5" cy="346" r="1.4" fill="#111"/>
<path d="M255.00,372.00 C256.00,368.00 253.67,367.00 258.00,360.00 C262.33,353.00 259.00,355.50 268.00,351.00 C277.00,346.50 273.33,348.00 285.00,346.50 C296.67,345.00 292.00,345.50 303.00,346.50 C314.00,347.50 313.00,348.50 318.00,349.50" fill="none" stroke="#111" stroke-width="2.0929999999999995" stroke-linejoin="round" stroke-linecap="round" />
<path d="M255.00,372.00 C255.33,376.67 253.67,376.67 256.00,386.00 C258.33,395.33 256.67,392.00 262.00,400.00 C267.33,408.00 264.33,404.00 272.00,410.00 C279.67,416.00 275.67,413.33 285.00,418.00 C294.33,422.67 288.33,420.67 300.00,424.00 C311.67,427.33 305.00,426.50 320.00,428.00 C335.00,429.50 328.33,429.17 345.00,428.50 C361.67,427.83 354.33,428.50 370.00,426.00 C385.67,423.50 379.33,425.00 392.00,421.00 C404.67,417.00 400.33,418.33 408.00,414.00 C415.67,409.67 412.67,410.00 415.00,408.00" fill="none" stroke="#111" stroke-width="2.4149999999999996" stroke-linejoin="round" stroke-linecap="round" />
<path d="M338.00,357.00 C345.33,359.33 346.67,358.33 360.00,364.00 C373.33,369.67 367.33,366.67 378.00,374.00 C388.67,381.33 384.00,378.00 392.00,386.00 C400.00,394.00 397.67,390.67 402.00,398.00 C406.33,405.33 405.67,402.00 405.00,408.00 C404.33,414.00 401.67,413.33 400.00,416.00" fill="none" stroke="#111" stroke-width="1.9319999999999997" stroke-linejoin="round" stroke-linecap="round" />
<ellipse cx="331" cy="400" rx="56" ry="30" fill="none" stroke="#111" stroke-width="2.0929999999999995" transform="rotate(2 331 400)"/>
<ellipse cx="330" cy="401.5" rx="48" ry="24" fill="none" stroke="#111" stroke-width="1.9319999999999997" transform="rotate(2 330 401.5)"/>
<ellipse cx="329" cy="402.5" rx="41" ry="19.5" fill="none" stroke="#111" stroke-width="1.9319999999999997" transform="rotate(2 329 402.5)"/>
<ellipse cx="328" cy="403" rx="35" ry="16.5" fill="none" stroke="#111" stroke-width="1.6099999999999999" transform="rotate(2 328 403)"/>
<path d="M298.8,401.5 C299,392 312,385.3 327.5,385.3 C343,385.3 356,391 356.3,399 C356.5,408 343,415 327.5,415 C312,415 298.6,410 298.8,401.5 Z" fill="#fff" stroke="#111" stroke-width="2.5759999999999996" stroke-linejoin="round" stroke-linecap="round" />
<path d="M303,393.5 C308,388 317,385.3 327.5,385.3 C340,385.3 350,388.6 354,394 C347,392.5 338,391.4 327.5,391.4 C317,391.4 309,392.5 303,393.5 Z" fill="#111" stroke="#111" stroke-width="1.2879999999999998" stroke-linejoin="round" stroke-linecap="round" />
<path d="M288.5,395.5 L296,395 L296.5,400 L289,400.5 Z" fill="none" stroke="#111" stroke-width="2.2539999999999996" stroke-linejoin="round" stroke-linecap="round"/>
<path d="M326,415.8 L337.5,415.2 L337.8,418.6 L326.3,419 Z" fill="none" stroke="#111" stroke-width="2.0929999999999995" stroke-linejoin="round" stroke-linecap="round"/>
<path d="M336.5,382 L346.5,382.8 L346,386.5 L336,386 Z" fill="#fff" stroke="#111" stroke-width="2.0929999999999995" stroke-linejoin="round" stroke-linecap="round"/>
<ellipse cx="335" cy="377" rx="3" ry="2.6" fill="none" stroke="#111" stroke-width="1.9319999999999997"/>
<ellipse cx="325.5" cy="352.7" rx="5.2" ry="3.8" fill="#111" stroke="#111" stroke-width="1.6099999999999999"/>
<ellipse cx="333" cy="353.5" rx="2.6" ry="2.2" fill="none" stroke="#111" stroke-width="1.6099999999999999"/>
<path d="M331.50,356.00 C331.67,359.33 331.17,359.67 332.00,366.00 C332.83,372.33 333.33,372.00 334.00,375.00" fill="none" stroke="#111" stroke-width="1.771" stroke-linejoin="round" stroke-linecap="round" />
<path d="M358.80,362.50 C356.87,365.00 356.77,364.83 353.00,370.00 C349.23,375.17 349.33,375.33 347.50,378.00" fill="none" stroke="#111" stroke-width="1.771" stroke-linejoin="round" stroke-linecap="round" />
<path d="M315.00,353.80 C314.50,356.53 313.90,356.60 313.50,362.00 C313.10,367.40 313.70,367.33 313.80,370.00" fill="none" stroke="#111" stroke-width="1.6099999999999999" stroke-linejoin="round" stroke-linecap="round" />
<path d="M272.50,351.50 C275.00,356.33 273.73,356.50 280.00,366.00 C286.27,375.50 287.53,375.33 291.30,380.00" fill="none" stroke="#111" stroke-width="2.0929999999999995" stroke-linejoin="round" stroke-linecap="round" />
<path d="M340.00,380.00 C344.00,380.33 344.00,379.00 352.00,381.00 C360.00,383.00 358.00,381.67 364.00,386.00 C370.00,390.33 368.00,391.33 370.00,394.00" fill="none" stroke="#111" stroke-width="1.6099999999999999" stroke-linejoin="round" stroke-linecap="round" />
<path d="M250.00,427.50 C251.35,423.25 251.63,423.13 256.30,424.30 C260.97,425.47 262.60,429.19 270.00,432.50 C277.40,435.81 279.83,435.86 288.00,438.50 C296.17,441.14 300.43,441.93 305.00,443.80 C309.57,445.67 307.30,442.72 307.60,446.50 C307.90,450.28 307.49,456.10 306.30,460.00 C305.11,463.90 308.64,463.78 302.50,463.20 C296.36,462.62 290.50,460.86 280.00,457.50 C269.50,454.14 264.38,452.30 257.50,448.80 C250.62,445.30 252.25,447.47 250.50,442.50 C248.75,437.53 248.65,431.75 250.00,427.50 Z" fill="none" stroke="#111" stroke-width="2.2539999999999996" stroke-linejoin="round" stroke-linecap="round" />
<circle cx="287" cy="454.5" r="1.8" fill="#111"/>
<circle cx="295" cy="455" r="1.8" fill="#111"/>
<circle cx="280" cy="465.5" r="0.9" fill="#111"/>
<circle cx="286.3" cy="467.5" r="0.9" fill="#111"/>
<line x1="222.5" y1="446.3" x2="273.8" y2="423.8" stroke="#111" stroke-width="1.4489999999999998" stroke-linecap="butt"/>
<line x1="233.8" y1="450" x2="290" y2="430" stroke="#111" stroke-width="1.4489999999999998" stroke-linecap="butt"/>
<path d="M208.80,420.00 C213.37,422.10 214.60,420.47 222.50,426.30 C230.40,432.13 227.07,430.43 232.50,437.50 C237.93,444.57 232.97,440.83 238.80,447.50 C244.63,454.17 240.43,451.23 250.00,457.50 C259.57,463.77 254.17,461.30 267.50,466.30 C280.83,471.30 274.17,469.43 290.00,472.50 C305.83,475.57 300.83,474.67 315.00,475.50 C329.17,476.33 325.00,476.83 332.50,475.00 C340.00,473.17 335.83,471.67 337.50,470.00" fill="none" stroke="#111" stroke-width="3.7029999999999994" stroke-linejoin="round" stroke-linecap="round" />
<path d="M235.00,436.30 C238.33,441.30 235.83,442.97 245.00,451.30 C254.17,459.63 247.50,455.47 262.50,461.30 C277.50,467.13 269.17,465.23 290.00,468.80 C310.83,472.37 313.33,470.93 325.00,472.00" fill="none" stroke="#111" stroke-width="1.6099999999999999" stroke-linejoin="round" stroke-linecap="round" />
<path d="M315.00,461.00 C315.50,457.33 313.83,456.67 316.50,450.00 C319.17,443.33 316.83,446.00 323.00,441.00 C329.17,436.00 331.00,437.00 335.00,435.00" fill="none" stroke="#111" stroke-width="1.771" stroke-linejoin="round" stroke-linecap="round" />
<path d="M300.00,424.00 C303.33,428.00 305.33,428.00 310.00,436.00 C314.67,444.00 312.67,444.00 314.00,448.00" fill="none" stroke="#111" stroke-width="1.6099999999999999" stroke-linejoin="round" stroke-linecap="round" />
<path d="M417.00,413.00 C420.67,414.00 420.33,413.50 428.00,416.00 C435.67,418.50 431.83,415.83 440.00,420.50 C448.17,425.17 446.23,422.17 452.50,430.00 C458.77,437.83 456.70,439.33 458.80,444.00" fill="none" stroke="#111" stroke-width="3.2199999999999998" stroke-linejoin="round" stroke-linecap="round" />
<line x1="460.5" y1="444.5" x2="405" y2="473.8" stroke="#111" stroke-width="2.8979999999999997" stroke-linecap="butt"/>
<line x1="405" y1="473.8" x2="373.8" y2="487.5" stroke="#111" stroke-width="2.8979999999999997" stroke-linecap="butt"/>
<path d="M416.30,416.30 C416.87,418.87 416.10,417.43 418.00,424.00 C419.90,430.57 418.00,425.67 422.00,436.00 C426.00,446.33 427.33,448.67 430.00,455.00" fill="none" stroke="#111" stroke-width="2.4149999999999996" stroke-linejoin="round" stroke-linecap="round" />
<path d="M425.00,420.00 C426.00,423.33 425.50,423.33 428.00,430.00 C430.50,436.67 429.33,432.50 432.50,440.00 C435.67,447.50 435.83,448.33 437.50,452.50" fill="none" stroke="#111" stroke-width="1.9319999999999997" stroke-linejoin="round" stroke-linecap="round" />
<path d="M435.00,422.50 C436.17,425.33 436.17,425.83 438.50,431.00 C440.83,436.17 439.83,432.07 442.00,438.00 C444.17,443.93 444.00,445.20 445.00,448.80" fill="none" stroke="#111" stroke-width="1.9319999999999997" stroke-linejoin="round" stroke-linecap="round" />
<path d="M417.00,426.50 C420.00,425.83 419.67,424.50 426.00,424.50 C432.33,424.50 429.33,424.33 436.00,426.50 C442.67,428.67 442.67,429.50 446.00,431.00" fill="none" stroke="#111" stroke-width="1.6099999999999999" stroke-linejoin="round" stroke-linecap="round" />
<path d="M411.00,414.00 C411.50,417.33 413.50,418.00 412.50,424.00 C411.50,430.00 409.50,429.33 408.00,432.00" fill="none" stroke="#111" stroke-width="2.0929999999999995" stroke-linejoin="round" stroke-linecap="round" />
<path d="M337.50,470.00 C337.00,466.67 336.17,465.67 336.00,460.00 C335.83,454.33 334.00,456.40 337.00,453.00 C340.00,449.60 336.67,450.97 345.00,449.80 C353.33,448.63 350.33,449.93 362.00,449.50 C373.67,449.07 370.00,450.67 380.00,448.50 C390.00,446.33 384.67,447.00 392.00,443.00 C399.33,439.00 395.67,440.83 402.00,436.50 C408.33,432.17 408.00,432.17 411.00,430.00" fill="none" stroke="#111" stroke-width="2.4149999999999996" stroke-linejoin="round" stroke-linecap="round" />
<path d="M341.00,476.00 C340.83,471.33 339.50,468.33 340.50,462.00 C341.50,455.67 340.17,458.83 344.00,457.00 C347.83,455.17 349.33,456.67 352.00,456.50" fill="none" stroke="#111" stroke-width="1.771" stroke-linejoin="round" stroke-linecap="round" />
<path d="M345.00,455.00 C350.00,454.50 349.00,454.17 360.00,453.50 C371.00,452.83 368.00,454.67 378.00,453.00 C388.00,451.33 381.33,452.50 390.00,448.50 C398.67,444.50 396.00,446.00 404.00,441.00 C412.00,436.00 408.67,437.83 414.00,433.50 C419.33,429.17 418.00,429.83 420.00,428.00" fill="none" stroke="#111" stroke-width="1.6099999999999999" stroke-linejoin="round" stroke-linecap="round" />
<path d="M352.00,456.50 C355.33,457.67 356.33,455.50 362.00,460.00 C367.67,464.50 365.07,461.17 369.00,470.00 C372.93,478.83 372.20,481.00 373.80,486.50" fill="none" stroke="#111" stroke-width="2.2539999999999996" stroke-linejoin="round" stroke-linecap="round" />
<path d="M362.50,458.50 C366.33,461.00 367.33,458.67 374.00,466.00 C380.67,473.33 379.67,475.67 382.50,480.50" fill="none" stroke="#111" stroke-width="1.9319999999999997" stroke-linejoin="round" stroke-linecap="round" />
<path d="M380.00,458.00 C384.00,460.00 385.33,459.00 392.00,464.00 C398.67,469.00 397.33,470.00 400.00,473.00" fill="none" stroke="#111" stroke-width="1.9319999999999997" stroke-linejoin="round" stroke-linecap="round" />
<path d="M395.00,447.00 C398.00,450.33 399.00,450.33 404.00,457.00 C409.00,463.67 408.00,463.67 410.00,467.00" fill="none" stroke="#111" stroke-width="1.771" stroke-linejoin="round" stroke-linecap="round" />
<path d="M357.5,471.3 L366.3,475 L366.3,480" fill="none" stroke="#111" stroke-width="1.6099999999999999" stroke-linejoin="round" stroke-linecap="round"/>
<path d="M392.00,421.00 C394.00,423.33 395.33,422.67 398.00,428.00 C400.67,433.33 399.33,434.00 400.00,437.00" fill="none" stroke="#111" stroke-width="1.6099999999999999" stroke-linejoin="round" stroke-linecap="round" />
<path d="M370.00,426.00 C373.33,429.33 375.33,429.00 380.00,436.00 C384.67,443.00 382.67,443.33 384.00,447.00" fill="none" stroke="#111" stroke-width="1.6099999999999999" stroke-linejoin="round" stroke-linecap="round" />
<circle cx="320" cy="494.5" r="2.5" fill="#111"/>
<circle cx="334.5" cy="488" r="2.4" fill="#111"/>
</g>
<g id="p_topleft">
<path d="M148.4,288.6 L152.3,275.7 L163.5,278 L164.3,272.3 L185.3,263.7 L201.6,257.2 L203.1,254.1 L223.6,244.6 L233.4,237.8 L236.2,234 L245.6,236.6 L251.9,247 L250.3,254.9 L164.7,296.7 Z" fill="#fff" stroke="#111" stroke-width="1.8399999999999999" stroke-linejoin="round" stroke-linecap="round"/>
<path d="M164,291.11990000000003 L164.3,272.3 L185.3,263.7 L201.6,257.2 L203.1,254.1 L223.6,244.6 L233.4,237.8 L236.2,234 L245.6,236.6 L251.9,247 L250.8,251.45229999999995 Z" fill="#111" stroke="#111" stroke-width="0.9199999999999999" stroke-linejoin="round" stroke-linecap="round"/>
<path d="M177,282.1789 L200.5,271.4394 L200.5,265.73939999999993 L177,276.47889999999995 Z" fill="#fff" stroke="none" stroke-width="0.0" stroke-linejoin="round" stroke-linecap="round"/>
<path d="M220.6,262.2537 L233.2,256.4955 L233.2,250.79549999999998 L220.6,256.55369999999994 Z" fill="#fff" stroke="none" stroke-width="0.0" stroke-linejoin="round" stroke-linecap="round"/>
<path d="M166,274.9059 L184.5,266.4514 L184.5,265.35139999999996 L166,273.80589999999995 Z" fill="#fff" stroke="none" stroke-width="0.0" stroke-linejoin="round" stroke-linecap="round"/>
<path d="M204.5,257.5114 L222.5,249.28539999999998 L222.5,248.1854 L204.5,256.41139999999996 Z" fill="#fff" stroke="none" stroke-width="0.0" stroke-linejoin="round" stroke-linecap="round"/>
<path d="M201.8,260.2 L204,265.6 C205.5,268.2 208.5,267.5 209.3,264.6 L211,259.6" fill="none" stroke="#111" stroke-width="4.14" stroke-linejoin="round" stroke-linecap="round" />
<path d="M201.8,260.2 L204,265.6 C205.5,268.2 208.5,267.5 209.3,264.6 L211,259.6" fill="none" stroke="#fff" stroke-width="1.38" stroke-linejoin="round" stroke-linecap="round" />
<line x1="164.7" y1="296.7" x2="250.3" y2="254.9" stroke="#111" stroke-width="2.3" stroke-linecap="butt"/>
<path d="M148.4,288.6 L152.3,275.7 L161.3,278.7 L163.4,292.8 L164.7,296.7 Z" fill="#fff" stroke="#111" stroke-width="2.3" stroke-linejoin="round" stroke-linecap="round"/>
<line x1="151.5" y1="286.6" x2="163" y2="289.8" stroke="#111" stroke-width="1.15" stroke-linecap="butt"/>
<path d="M165.5,282.5 L169,281 L169.5,284.5 L166.5,286 Z" fill="#fff" stroke="none" stroke-width="0.0" stroke-linejoin="round" stroke-linecap="round"/>
<path d="M241.5,239 L245,240 L248.6,246 L246,245.5 Z" fill="#fff" stroke="none" stroke-width="0.0" stroke-linejoin="round" stroke-linecap="round"/>
<path d="M236.5,240 L239.3,241 L239.3,244.6 L236.5,243.4 Z" fill="#fff" stroke="none" stroke-width="0.0" stroke-linejoin="round" stroke-linecap="round"/>
<path d="M151.9,232.20000000000002 L157.29999999999998,232.20000000000002 L157.29999999999998,236.60000000000002 L151.9,236.60000000000002 Z" fill="#111" stroke="#111" stroke-width="0.9199999999999999" stroke-linejoin="round" stroke-linecap="round"/>
<line x1="154.6" y1="236.60000000000002" x2="154.6" y2="241.0" stroke="#111" stroke-width="2.76" stroke-linecap="butt"/>
<path d="M155.5,235.0 L160.89999999999998,235.0 L160.89999999999998,239.4 L155.5,239.4 Z" fill="#111" stroke="#111" stroke-width="0.9199999999999999" stroke-linejoin="round" stroke-linecap="round"/>
<line x1="158.2" y1="239.4" x2="158.2" y2="243.79999999999998" stroke="#111" stroke-width="2.76" stroke-linecap="butt"/>
<path d="M234.20000000000002,193.6 L239.6,193.6 L239.6,198.0 L234.20000000000002,198.0 Z" fill="#111" stroke="#111" stroke-width="0.9199999999999999" stroke-linejoin="round" stroke-linecap="round"/>
<line x1="236.9" y1="198.0" x2="236.9" y2="202.39999999999998" stroke="#111" stroke-width="2.76" stroke-linecap="butt"/>
<path d="M238.4,197.0 L243.79999999999998,197.0 L243.79999999999998,201.4 L238.4,201.4 Z" fill="#111" stroke="#111" stroke-width="0.9199999999999999" stroke-linejoin="round" stroke-linecap="round"/>
<line x1="241.1" y1="201.4" x2="241.1" y2="205.79999999999998" stroke="#111" stroke-width="2.76" stroke-linecap="butt"/>
<path d="M149.3,252.8 L156.10000000000002,250.0 L163.3,253.8 L157.10000000000002,256.8 Z" fill="#fff" stroke="#111" stroke-width="2.6449999999999996" stroke-linejoin="round" stroke-linecap="round"/>
<path d="M153.3,253.3 L156.70000000000002,251.8 L159.5,253.6 L156.3,255.0 Z" fill="#111" stroke="#111" stroke-width="1.15" stroke-linejoin="round" stroke-linecap="round"/>
<line x1="155.5" y1="253.6" x2="157.3" y2="253.0" stroke="#fff" stroke-width="0.8049999999999999" stroke-linecap="butt"/>
<path d="M232.4,214.0 L239.20000000000002,211.2 L246.4,215.0 L240.20000000000002,218.0 Z" fill="#fff" stroke="#111" stroke-width="2.6449999999999996" stroke-linejoin="round" stroke-linecap="round"/>
<path d="M236.4,214.5 L239.8,213.0 L242.6,214.79999999999998 L239.4,216.2 Z" fill="#111" stroke="#111" stroke-width="1.15" stroke-linejoin="round" stroke-linecap="round"/>
<line x1="238.6" y1="214.79999999999998" x2="240.4" y2="214.2" stroke="#fff" stroke-width="0.8049999999999999" stroke-linecap="butt"/>
<line x1="154.6" y1="241" x2="154.6" y2="276" stroke="#111" stroke-width="1.38" stroke-dasharray="5 3" stroke-linecap="butt"/>
<line x1="158.2" y1="244" x2="158.2" y2="277" stroke="#111" stroke-width="1.38" stroke-dasharray="5 3" stroke-linecap="butt"/>
<line x1="236.9" y1="202" x2="236.9" y2="235" stroke="#111" stroke-width="1.38" stroke-dasharray="5 3" stroke-linecap="butt"/>
<line x1="241.1" y1="206" x2="241.1" y2="237" stroke="#111" stroke-width="1.38" stroke-dasharray="5 3" stroke-linecap="butt"/>
<circle cx="171" cy="250.8" r="2.8" fill="#111"/>
<line x1="171" y1="250.8" x2="171" y2="257.3" stroke="#111" stroke-width="2.3" stroke-linecap="butt"/>
<circle cx="213.8" cy="234.6" r="2.8" fill="#111"/>
<line x1="213.8" y1="234.6" x2="213.8" y2="241.1" stroke="#111" stroke-width="2.3" stroke-linecap="butt"/>
<circle cx="235.4" cy="223.6" r="2.8" fill="#111"/>
<line x1="235.4" y1="223.6" x2="235.4" y2="230.1" stroke="#111" stroke-width="2.3" stroke-linecap="butt"/>
<line x1="173.5" y1="250" x2="211.5" y2="235.5" stroke="#111" stroke-width="1.265" stroke-dasharray="7 4" stroke-linecap="butt"/>
<line x1="216" y1="233.4" x2="233.5" y2="225" stroke="#111" stroke-width="1.265" stroke-dasharray="7 4" stroke-linecap="butt"/>
<line x1="171" y1="258" x2="171" y2="321" stroke="#111" stroke-width="1.38" stroke-dasharray="12 3 3 3" stroke-linecap="butt"/>
<line x1="213.8" y1="241" x2="213.8" y2="300" stroke="#111" stroke-width="1.38" stroke-dasharray="12 3 3 3" stroke-linecap="butt"/>
<line x1="235.8" y1="230" x2="235.8" y2="287" stroke="#111" stroke-width="1.38" stroke-dasharray="12 3 3 3" stroke-linecap="butt"/>
<circle cx="171.25" cy="323.25" r="2.0" fill="#111"/>
<circle cx="214.1" cy="302.2" r="2.0" fill="#111"/>
<circle cx="235.9" cy="288.8" r="2.0" fill="#111"/>
<line x1="216" y1="301" x2="234" y2="290" stroke="#111" stroke-width="1.265" stroke-dasharray="7 4" stroke-linecap="butt"/>
<path d="M46.4,267.9 L59.3,261.4 L66.4,263.6 L52.9,270 Z" fill="#fff" stroke="#111" stroke-width="2.3" stroke-linejoin="round" stroke-linecap="round"/>
<path d="M49.8,267.6 L59.5,263 L63,264 L53.2,268.7 Z" fill="none" stroke="#111" stroke-width="1.15" stroke-linejoin="round" stroke-linecap="round"/>
<path d="M46.4,267.9 L46.4,303 L52.9,306 L52.9,270 Z" fill="#fff" stroke="#111" stroke-width="2.3" stroke-linejoin="round" stroke-linecap="round"/>
<line x1="66.4" y1="263.6" x2="66.4" y2="289" stroke="#111" stroke-width="2.3" stroke-linecap="butt"/>
<path d="M26.4,324.3 L32.9,297.1 L36.4,295.4 L49.3,302.1 L48.6,329.3 L30,321.4 Z" fill="#fff" stroke="#111" stroke-width="2.3" stroke-linejoin="round" stroke-linecap="round"/>
<line x1="36.4" y1="297.5" x2="31.4" y2="320.7" stroke="#111" stroke-width="1.15" stroke-linecap="butt"/>
<line x1="49" y1="303" x2="48.6" y2="329" stroke="#111" stroke-width="1.15" stroke-linecap="butt"/>
<path d="M51.4,338.6 L51.4,306 C53,296 68,283 78.6,275.7 L80,273.6 L92.9,275 L93.6,310 C86,314 78,319.5 72.9,323.6 C66,329.5 58,335 52.9,339.3 Z" fill="#fff" stroke="#111" stroke-width="2.6449999999999996" stroke-linejoin="round" stroke-linecap="round" />
<line x1="76.4" y1="281.4" x2="76.4" y2="317.1" stroke="#111" stroke-width="1.6099999999999999" stroke-linecap="butt"/>
<path d="M54.8,334.3 L54.8,310 C57,300 68,290 75.7,283" fill="none" stroke="#111" stroke-width="1.15" stroke-linejoin="round" stroke-linecap="round" />
<circle cx="79.3" cy="274.3" r="1.3" fill="#111"/>
<ellipse cx="289.6" cy="277.6" rx="4.6" ry="4.0" fill="#111" stroke="#111" stroke-width="0.575"/>
<path d="M290,281 L290,299.5 L307,299.5 L307,340" fill="none" stroke="#111" stroke-width="1.265" stroke-linejoin="round" stroke-linecap="round"/>
<ellipse cx="317.6" cy="258.8" rx="3.4" ry="1.8" fill="#111" stroke="#111" stroke-width="0.575"/>
<path d="M313.8,273.5 L321.4,273.5 L321.4,284 L313.8,284 Z" fill="#111" stroke="#111" stroke-width="1.38" stroke-linejoin="round" stroke-linecap="round"/>
<ellipse cx="317.6" cy="273.5" rx="3.8" ry="1.6" fill="#111" stroke="#111" stroke-width="0.575"/>
<ellipse cx="317.6" cy="284" rx="3.8" ry="1.8" fill="#111" stroke="#111" stroke-width="0.575"/>
<line x1="316" y1="276" x2="316" y2="282" stroke="#fff" stroke-width="0.8049999999999999" stroke-linecap="butt"/>
<path d="M314.2,298.2 L321.2,298.2 L321.2,303 L314.2,303 Z" fill="#111" stroke="#111" stroke-width="1.15" stroke-linejoin="round" stroke-linecap="round"/>
<line x1="317.6" y1="252" x2="317.6" y2="313" stroke="#111" stroke-width="1.265" stroke-dasharray="6 3" stroke-linecap="butt"/>
<path d="M318,306 L318,313 L328,313" fill="none" stroke="#111" stroke-width="1.265" stroke-linejoin="round" stroke-linecap="round"/>
</g>
<g id="p_left">
<path d="M125,389.3 L130,383 L133.6,383.6 L147.9,404.3 L144.3,430 L140.7,432.1 L125,417.9 Z" fill="#fff" stroke="#111" stroke-width="2.9899999999999998" stroke-linejoin="round" stroke-linecap="round"/>
<path d="M133.4,384.6 L146.6,404.6 L143.2,429.2 L140.8,431" fill="none" stroke="#111" stroke-width="3.9099999999999997" stroke-linejoin="round" stroke-linecap="round" />
<path d="M133.4,384.6 L146.6,404.6 L143.2,429.2 L140.8,431" fill="none" stroke="#fff" stroke-width="0.575" stroke-linejoin="round" stroke-linecap="round" />
<line x1="125.6" y1="392" x2="125.2" y2="412" stroke="#111" stroke-width="3.4499999999999997" stroke-linecap="butt"/>
<circle cx="130" cy="389.3" r="1.8" fill="#111"/>
<circle cx="141.4" cy="405" r="1.8" fill="#111"/>
<circle cx="129" cy="417.1" r="1.8" fill="#111"/>
<circle cx="140.7" cy="428.6" r="1.8" fill="#111"/>
<circle cx="162.9" cy="400" r="3.4" fill="#111"/>
<circle cx="169.3" cy="415" r="3.4" fill="#111"/>
<line x1="162.9" y1="400" x2="148.6" y2="406.4" stroke="#111" stroke-width="1.265" stroke-linecap="butt"/>
<line x1="169.3" y1="415" x2="145.7" y2="425.7" stroke="#111" stroke-width="1.265" stroke-linecap="butt"/>
<line x1="164.5" y1="404" x2="168" y2="411.5" stroke="#111" stroke-width="1.15" stroke-dasharray="3 2.5" stroke-linecap="butt"/>
<path d="M93,423 C102,425 115,433 122.5,446" fill="none" stroke="#111" stroke-width="5.9799999999999995" stroke-linejoin="round" stroke-linecap="butt" />
<path d="M96,424.6 C104,427 114,435 120.5,445" fill="none" stroke="#fff" stroke-width="1.265" stroke-linejoin="round" stroke-linecap="butt" stroke-dasharray="1.6 2.8" />
<path d="M119.5,447 L123.5,444.8 L125.5,447.5 L121.5,449.8 Z" fill="#fff" stroke="#111" stroke-width="1.38" stroke-linejoin="round" stroke-linecap="round"/>
<circle cx="92.6" cy="424.3" r="1.8" fill="#111"/>
<circle cx="85" cy="440.3" r="2.7" fill="#111"/>
<line x1="85" y1="440.3" x2="89.3" y2="437.5" stroke="#111" stroke-width="3.6799999999999997" stroke-linecap="butt"/>
<circle cx="95.7" cy="452.2" r="2.7" fill="#111"/>
<line x1="95.7" y1="452.2" x2="100.0" y2="449.4" stroke="#111" stroke-width="3.6799999999999997" stroke-linecap="butt"/>
<line x1="90" y1="441" x2="96.4" y2="446.6" stroke="#111" stroke-width="1.15" stroke-linecap="butt"/>
<line x1="89.5" y1="437.3" x2="125" y2="420" stroke="#111" stroke-width="1.265" stroke-linecap="butt"/>
<line x1="100.7" y1="449.3" x2="137.9" y2="431.4" stroke="#111" stroke-width="1.265" stroke-linecap="butt"/>
<path d="M208,437.6 L212.6,436.4 L212.6,445.6 L208,446.7 Z" fill="#111" stroke="#111" stroke-width="1.8399999999999999" stroke-linejoin="round" stroke-linecap="round"/>
<line x1="210" y1="440.2" x2="210" y2="443.5" stroke="#fff" stroke-width="1.035" stroke-linecap="butt"/>
<path d="M211,443.2 L233.5,451 L237.5,448.5 L237.7,453.6 L232,457 L209.5,448.2 Z" fill="#111" stroke="#111" stroke-width="1.6099999999999999" stroke-linejoin="round" stroke-linecap="round"/>
<line x1="214.5" y1="446.8" x2="230" y2="452.4" stroke="#fff" stroke-width="1.4949999999999999" stroke-linecap="butt"/>
<line x1="233.6" y1="453.3" x2="236.3" y2="451.7" stroke="#fff" stroke-width="1.035" stroke-linecap="butt"/>
<circle cx="213.5" cy="464.4" r="3.3" fill="#111"/>
<circle cx="229.7" cy="469" r="3.3" fill="#111"/>
<line x1="213.5" y1="447.9" x2="213.5" y2="462" stroke="#111" stroke-width="1.265" stroke-linecap="butt"/>
<line x1="229.9" y1="457" x2="229.9" y2="466" stroke="#111" stroke-width="1.265" stroke-linecap="butt"/>
<line x1="217" y1="465.5" x2="226" y2="468" stroke="#111" stroke-width="1.15" stroke-dasharray="3 3" stroke-linecap="butt"/>
<line x1="167.4" y1="458.7" x2="198" y2="471" stroke="#111" stroke-width="2.9899999999999998" stroke-linecap="round"/>
<line x1="198" y1="471" x2="207.4" y2="474.7" stroke="#111" stroke-width="2.9899999999999998" stroke-linecap="butt"/>
<line x1="198.5" y1="471.2" x2="206.6" y2="474.4" stroke="#fff" stroke-width="0.9199999999999999" stroke-linecap="butt"/>
<path d="M212,474.4 L214.5,472.6 L230.5,479.6 L229.5,484 L221.5,481.5 L220.8,488.5 L219.3,491.8 L216.3,491.6 L216.3,488 L217.6,482.2 L211.4,479.2 Z" fill="#111" stroke="#111" stroke-width="1.15" stroke-linejoin="round" stroke-linecap="round"/>
<circle cx="222.8" cy="483.6" r="0.8" fill="#fff"/>
<path d="M201.1,482.1 C203,479.5 207,478.6 211.4,478.2" fill="none" stroke="#111" stroke-width="1.265" stroke-linejoin="round" stroke-linecap="round" />
<path d="M259.6,484.1 L262.6,480.7 L269.4,481.1 L272,487.1 L268.6,488.9 L262.6,487.6 Z" fill="#111" stroke="#111" stroke-width="1.15" stroke-linejoin="round" stroke-linecap="round"/>
<ellipse cx="266.8" cy="485.9" rx="1.5" ry="0.8" fill="#fff" stroke="none" stroke-width="0.0"/>
<line x1="272.8" y1="476.4" x2="274.5" y2="473.4" stroke="#111" stroke-width="1.15" stroke-linecap="butt"/>
<path d="M251.9,497.4 L254.9,494 L260,493.1 L263.8,497.4 L260.8,501.3 L254.4,500.9 Z" fill="#111" stroke="#111" stroke-width="1.15" stroke-linejoin="round" stroke-linecap="round"/>
<ellipse cx="256.8" cy="496.1" rx="2.0" ry="1.0" fill="#fff" stroke="none" stroke-width="0.0"/>
<line x1="259" y1="491.5" x2="260.3" y2="493" stroke="#111" stroke-width="1.035" stroke-linecap="butt"/>
<line x1="251" y1="503" x2="253" y2="500.5" stroke="#111" stroke-width="1.035" stroke-linecap="butt"/>
<path d="M241.2,510 C241,507 243.5,505.5 246.5,505.5 C247.5,507.5 249,509.5 250.8,509.8 C252.5,508.5 254,506.5 256,505.6 C259.5,505.5 261,508.5 260.8,512 C260,516 254,518.2 249,517.9 C244.5,517.5 241.8,514.5 241.2,510 Z" fill="#111" stroke="#111" stroke-width="1.6099999999999999" stroke-linejoin="round" stroke-linecap="round" />
<path d="M245.5,514.6 C248,515.8 253,515.4 255.8,513.8" fill="none" stroke="#fff" stroke-width="1.4949999999999999" stroke-linejoin="round" stroke-linecap="round" />
<line x1="243.3" y1="509.8" x2="245.4" y2="507.2" stroke="#fff" stroke-width="1.035" stroke-linecap="butt"/>
<line x1="254.2" y1="509.5" x2="256.2" y2="507.2" stroke="#fff" stroke-width="1.035" stroke-linecap="butt"/>
<ellipse cx="267.2" cy="513.6" rx="1.6" ry="2.4" fill="#111" stroke="#111" stroke-width="0.45999999999999996" transform="rotate(-25 267.2 513.6)"/>
<line x1="264.6" y1="508.8" x2="265.6" y2="510.5" stroke="#111" stroke-width="1.035" stroke-linecap="butt"/>
<path d="M148.4,522.3 L156.7,504.3 L161.2,499.1 L170.2,499.1 L174.7,492.7 L217.1,510.1 L215.2,518.4 L222.3,522.9 L209.4,544.1 L204.3,544.8 L149,526.1 Z" fill="#fff" stroke="#111" stroke-width="2.9899999999999998" stroke-linejoin="round" stroke-linecap="round"/>
<path d="M155.5,520 L161.5,504.8 L178.5,506 L213,522 L207.5,540 L198,536 L159.5,524.4 Z" fill="#111" stroke="#111" stroke-width="1.6099999999999999" stroke-linejoin="round" stroke-linecap="round"/>
<path d="M152.5,521.5 L159.8,503.6 L170,502.4" fill="none" stroke="#111" stroke-width="1.15" stroke-linejoin="round" stroke-linecap="round"/>
<path d="M152,524.5 L204.5,541.6 L209,540.6 L218.6,523.5" fill="none" stroke="#111" stroke-width="1.15" stroke-linejoin="round" stroke-linecap="round"/>
<line x1="171.5" y1="498.5" x2="214" y2="515.6" stroke="#111" stroke-width="2.53" stroke-linecap="butt"/>
<line x1="176" y1="496.2" x2="214.5" y2="512" stroke="#111" stroke-width="1.8399999999999999" stroke-linecap="butt"/>
<path d="M173.4,497.9 L179.8,500.4 L178.8,503.0 L172.4,500.5 Z" fill="#fff" stroke="#111" stroke-width="1.15" stroke-linejoin="round" stroke-linecap="round"/>
<path d="M186.3,503 L197.8,508.1 L196.8,510.70000000000005 L185.3,505.6 Z" fill="#fff" stroke="#111" stroke-width="1.15" stroke-linejoin="round" stroke-linecap="round"/>
<path d="M204.3,510.7 L212,514.6 L211.0,517.2 L203.3,513.3 Z" fill="#fff" stroke="#111" stroke-width="1.15" stroke-linejoin="round" stroke-linecap="round"/>
<line x1="181" y1="501" x2="184.5" y2="495.5" stroke="#111" stroke-width="1.38" stroke-linecap="butt"/>
<line x1="199.5" y1="508.8" x2="202.5" y2="503.5" stroke="#111" stroke-width="1.38" stroke-linecap="butt"/>
<line x1="166" y1="510" x2="164" y2="516" stroke="#fff" stroke-width="1.035" stroke-linecap="butt"/>
<line x1="200" y1="527" x2="198.5" y2="532" stroke="#fff" stroke-width="1.265" stroke-linecap="butt"/>
<line x1="205.5" y1="528" x2="204" y2="533.5" stroke="#fff" stroke-width="1.265" stroke-linecap="butt"/>
<line x1="176" y1="520" x2="177" y2="523" stroke="#fff" stroke-width="0.8049999999999999" stroke-linecap="butt"/>
<path d="M92.1,565.2 C98,569 102,571.5 106.4,573.2 C113,576 119,578.5 124.3,582.1 C128,585 130,588 131.4,591.1 C132.5,594 133,597.5 134.1,600 L192.1,596.4 C196,596 198,595 198.4,592.9 L202,566.5 C202,563.5 201,562.5 199.3,562.5 L190.4,563.4" fill="none" stroke="#111" stroke-width="5.289999999999999" stroke-linejoin="round" stroke-linecap="round" />
<path d="M92.1,565.2 C98,569 102,571.5 106.4,573.2 C113,576 119,578.5 124.3,582.1 C128,585 130,588 131.4,591.1 C132.5,594 133,597.5 134.1,600 L192.1,596.4 C196,596 198,595 198.4,592.9 L202,566.5 C202,563.5 201,562.5 199.3,562.5 L190.4,563.4" fill="none" stroke="#fff" stroke-width="1.38" stroke-linejoin="round" stroke-linecap="round" />
<path d="M92.1,554.5 L136.8,547.3 L142.1,543.75 L147.5,544.6" fill="none" stroke="#111" stroke-width="2.76" stroke-linejoin="round" stroke-linecap="round"/>
<ellipse cx="91.25" cy="559.8" rx="2.6" ry="6.0" fill="#111" stroke="#111" stroke-width="2.9899999999999998"/>
<path d="M95.7,559.8 C104,565 118,573 127.9,580.4" fill="none" stroke="#111" stroke-width="1.4949999999999999" stroke-linejoin="round" stroke-linecap="round" />
<path d="M107.3,567.9 L119.8,558.9 L134.1,557.1 L131.8,572.3 L123.4,574.1 Z" fill="none" stroke="#111" stroke-width="2.1849999999999996" stroke-linejoin="round" stroke-linecap="round"/>
<line x1="126" y1="582.1" x2="193.9" y2="566.1" stroke="#111" stroke-width="1.7249999999999999" stroke-linecap="butt"/>
<line x1="136.8" y1="596.4" x2="193.9" y2="576.8" stroke="#111" stroke-width="1.7249999999999999" stroke-linecap="butt"/>
<path d="M146.6,553.6 L151.1,548.2 L185,560.7 L181.4,567 Z" fill="#fff" stroke="#111" stroke-width="2.1849999999999996" stroke-linejoin="round" stroke-linecap="round"/>
<line x1="146.6" y1="557.2" x2="179.6" y2="569.6" stroke="#111" stroke-width="1.6099999999999999" stroke-linecap="butt"/>
<line x1="146.6" y1="553.6" x2="146.6" y2="557.5" stroke="#111" stroke-width="1.6099999999999999" stroke-linecap="butt"/>
<path d="M154.5,545.1 L155.1,539.1 C155.7,535.6 162.29999999999998,535.6 162.89999999999998,539.4 L163.29999999999998,545.4" fill="none" stroke="#111" stroke-width="3.9099999999999997" stroke-linejoin="round" stroke-linecap="round" />
<path d="M157.1,543.6 L157.5,540.1 C157.7,538.6 160.1,538.6 160.5,540.4 L160.7,544.1" fill="none" stroke="#111" stroke-width="1.15" stroke-linejoin="round" stroke-linecap="round" />
<path d="M185.8,558.7 L186.4,552.7 C187,549.2 193.6,549.2 194.2,553.0 L194.6,559.0" fill="none" stroke="#111" stroke-width="3.9099999999999997" stroke-linejoin="round" stroke-linecap="round" />
<path d="M188.4,557.2 L188.8,553.7 C189,552.2 191.4,552.2 191.8,554.0 L192,557.7" fill="none" stroke="#111" stroke-width="1.15" stroke-linejoin="round" stroke-linecap="round" />
<path d="M137.1,560.5 L137.1,554 L141.9,553.6 L141.9,560.2" fill="none" stroke="#111" stroke-width="1.6099999999999999" stroke-linejoin="round" stroke-linecap="round"/>
<line x1="139.5" y1="554" x2="139.5" y2="560" stroke="#111" stroke-width="1.38" stroke-linecap="butt"/>
<path d="M163.4,574.5 L163.4,568 L168.20000000000002,567.6 L168.20000000000002,574.2" fill="none" stroke="#111" stroke-width="1.6099999999999999" stroke-linejoin="round" stroke-linecap="round"/>
<line x1="165.8" y1="568" x2="165.8" y2="574" stroke="#111" stroke-width="1.38" stroke-linecap="butt"/>
<circle cx="143" cy="582.1" r="1.2" fill="#111"/>
</g>
<g id="p_right">
<path d="M382.4,241.8 L383.4,238.4 L386.8,235 L390.2,235 L394,240.5 L406,254 L407.5,259 L404,282 L401,286.5 L398,285 L381.5,273 L385.3,250 Z" fill="#fff" stroke="#111" stroke-width="2.3" stroke-linejoin="round" stroke-linecap="round"/>
<path d="M394.6,241.2 L405.6,254 C407,256.5 407.2,258 407,260 L403.7,281.6 L400.9,285.6" fill="none" stroke="#111" stroke-width="4.14" stroke-linejoin="round" stroke-linecap="round" />
<path d="M394.6,241.2 L405.6,254 C407,256.5 407.2,258 407,260 L403.7,281.6 L400.9,285.6" fill="none" stroke="#fff" stroke-width="0.5175" stroke-linejoin="round" stroke-linecap="round" />
<circle cx="387.5" cy="241.5" r="1.9" fill="#111"/>
<circle cx="390.6" cy="244.6" r="1.4" fill="#111"/>
<circle cx="399.5" cy="257.5" r="1.9" fill="#111"/>
<circle cx="386.5" cy="269.5" r="1.9" fill="#111"/>
<circle cx="397.5" cy="280.5" r="1.9" fill="#111"/>
<circle cx="419" cy="253.5" r="4.2" fill="#111"/>
<circle cx="422.5" cy="268.5" r="4.2" fill="#111"/>
<circle cx="367.5" cy="279.5" r="3.4" fill="#111"/>
<circle cx="373.5" cy="294" r="3.4" fill="#111"/>
<line x1="419" y1="253.5" x2="422.5" y2="268.5" stroke="#111" stroke-width="1.38" stroke-linecap="butt"/>
<line x1="419" y1="253.5" x2="407.5" y2="258" stroke="#111" stroke-width="1.38" stroke-linecap="butt"/>
<line x1="422.5" y1="268.5" x2="405.5" y2="277.5" stroke="#111" stroke-width="1.38" stroke-linecap="butt"/>
<line x1="367.5" y1="279.5" x2="381.5" y2="272.8" stroke="#111" stroke-width="1.38" stroke-linecap="butt"/>
<line x1="373.5" y1="294" x2="394" y2="282.5" stroke="#111" stroke-width="1.38" stroke-linecap="butt"/>
<path d="M414.6,325.2 L441.5,301.6 L507.5,359 L562,388 C567,391 569,395 571,400 L576.2,411.6" fill="none" stroke="#111" stroke-width="5.9799999999999995" stroke-linejoin="round" stroke-linecap="round" />
<path d="M414.6,325.2 L441.5,301.6 L507.5,359 L562,388 C567,391 569,395 571,400 L576.2,411.6" fill="none" stroke="#fff" stroke-width="1.4949999999999999" stroke-linejoin="round" stroke-linecap="round" />
<line x1="506" y1="359.6" x2="510" y2="361.8" stroke="#111" stroke-width="1.38" stroke-linecap="butt"/>
<circle cx="576.6" cy="411.6" r="2.2" fill="#111"/>
<line x1="452" y1="287.5" x2="455" y2="295.75" stroke="#111" stroke-width="2.9899999999999998" stroke-linecap="round"/>
<line x1="589.6" y1="398.2" x2="592" y2="407.5" stroke="#111" stroke-width="2.9899999999999998" stroke-linecap="round"/>
<circle cx="422.6" cy="344.8" r="2.7" fill="#111"/>
<line x1="424" y1="345.6" x2="430" y2="347.4" stroke="#111" stroke-width="2.53" stroke-linecap="butt"/>
<line x1="430.6" y1="348" x2="459.6" y2="373.4" stroke="#111" stroke-width="6.21" stroke-linecap="round"/>
<line x1="461" y1="375" x2="470" y2="378" stroke="#111" stroke-width="2.76" stroke-linecap="butt"/>
<circle cx="472" cy="378.6" r="2.9" fill="#111"/>
<circle cx="476.25" cy="417.5" r="2.6" fill="#111"/>
<circle cx="462" cy="424.5" r="2.4" fill="#111"/>
<path d="M581,542.5 L607,550.2" fill="none" stroke="#111" stroke-width="5.75" stroke-linejoin="round" stroke-linecap="round" />
<path d="M581,542.5 L607,550.2" fill="none" stroke="#fff" stroke-width="2.53" stroke-linejoin="round" stroke-linecap="round" />
<path d="M533.6,581 L575,593.5 C582,595.6 586.5,594.5 588.4,590 L594,576 C596,570 598,566 601,562.5 L618,547.5 C621,545 625,544.5 628.5,546 C633,548.5 635,553 633,556.5 C631,560 627,560.5 623.5,557.5 L616.5,551.5" fill="none" stroke="#111" stroke-width="5.9799999999999995" stroke-linejoin="round" stroke-linecap="round" />
<path d="M533.6,581 L575,593.5 C582,595.6 586.5,594.5 588.4,590 L594,576 C596,570 598,566 601,562.5 L618,547.5 C621,545 625,544.5 628.5,546 C633,548.5 635,553 633,556.5 C631,560 627,560.5 623.5,557.5 L616.5,551.5" fill="none" stroke="#fff" stroke-width="2.6449999999999996" stroke-linejoin="round" stroke-linecap="round" />
<line x1="586.5" y1="541.8" x2="585.5" y2="545.5" stroke="#111" stroke-width="1.8399999999999999" stroke-linecap="butt"/>
<line x1="601.5" y1="546.2" x2="600.5" y2="550" stroke="#111" stroke-width="1.8399999999999999" stroke-linecap="butt"/>
<line x1="548" y1="583.2" x2="547" y2="587.4" stroke="#111" stroke-width="1.38" stroke-linecap="butt"/>
<line x1="563" y1="587.8" x2="562" y2="591.8" stroke="#111" stroke-width="1.38" stroke-linecap="butt"/>
<line x1="594.5" y1="573.5" x2="598.5" y2="575" stroke="#111" stroke-width="1.38" stroke-linecap="butt"/>
<circle cx="579" cy="556" r="3.2" fill="#111"/>
<circle cx="591" cy="561.3" r="3.2" fill="#111"/>
<circle cx="547.3" cy="565.2" r="3.2" fill="#111"/>
<circle cx="563.1" cy="570.6" r="2.8" fill="#111"/>
<circle cx="597.9" cy="531.1" r="2.2" fill="#111"/>
<line x1="595.3" y1="532.1" x2="600.5" y2="530.5" stroke="#111" stroke-width="1.8399999999999999" stroke-linecap="butt"/>
<circle cx="611.6" cy="536.3" r="2.2" fill="#111"/>
<line x1="609.0" y1="537.3" x2="614.2" y2="535.6999999999999" stroke="#111" stroke-width="1.8399999999999999" stroke-linecap="butt"/>
<ellipse cx="531" cy="604" rx="2.8" ry="2.0" fill="#111" stroke="#111" stroke-width="0.575" transform="rotate(-20 531 604)"/>
<line x1="531" y1="604" x2="532.2" y2="600.5" stroke="#111" stroke-width="2.53" stroke-linecap="butt"/>
<ellipse cx="548.1" cy="607.4" rx="2.8" ry="2.0" fill="#111" stroke="#111" stroke-width="0.575" transform="rotate(-20 548.1 607.4)"/>
<line x1="548.1" y1="607.4" x2="549.3000000000001" y2="603.9" stroke="#111" stroke-width="2.53" stroke-linecap="butt"/>
<line x1="597" y1="532" x2="580" y2="555" stroke="#111" stroke-width="1.38" stroke-dasharray="5 3" stroke-linecap="butt"/>
<line x1="612" y1="538.5" x2="593" y2="561" stroke="#111" stroke-width="1.38" stroke-dasharray="5 3" stroke-linecap="butt"/>
<line x1="598.5" y1="530.5" x2="610.5" y2="535.6" stroke="#111" stroke-width="1.265" stroke-dasharray="5 3" stroke-linecap="butt"/>
<line x1="547" y1="567" x2="532" y2="600" stroke="#111" stroke-width="1.38" stroke-dasharray="5 3" stroke-linecap="butt"/>
<line x1="562.5" y1="572.5" x2="549" y2="603.5" stroke="#111" stroke-width="1.38" stroke-dasharray="5 3" stroke-linecap="butt"/>
<line x1="534" y1="603.8" x2="545.5" y2="606" stroke="#111" stroke-width="1.15" stroke-dasharray="3 3" stroke-linecap="butt"/>
<line x1="550.5" y1="565.2" x2="560.5" y2="569" stroke="#111" stroke-width="1.15" stroke-dasharray="3 3" stroke-linecap="butt"/>
<line x1="539.5" y1="535" x2="556" y2="544" stroke="#111" stroke-width="1.265" stroke-linecap="butt"/>
<line x1="556" y1="544" x2="577.5" y2="555.5" stroke="#111" stroke-width="1.265" stroke-dasharray="7 4" stroke-linecap="butt"/>
</g>
<g id="p_bottom">
<line x1="293" y1="555" x2="293" y2="588" stroke="#111" stroke-width="1.15" stroke-linecap="butt"/>
<line x1="341.6" y1="565" x2="341.6" y2="658" stroke="#111" stroke-width="1.265" stroke-dasharray="8 4" stroke-linecap="butt"/>
<line x1="293" y1="634" x2="293" y2="658" stroke="#111" stroke-width="1.15" stroke-linecap="butt"/>
<line x1="333" y1="653.5" x2="333" y2="681" stroke="#111" stroke-width="1.15" stroke-linecap="butt"/>
<path d="M267,571.3 L267,607.3 L289.3,627.5" fill="none" stroke="#111" stroke-width="2.3" stroke-linejoin="round" stroke-linecap="round"/>
<path d="M267,571.3 L272.1,575.6 C276,583 279,592 281.5,599 C284.5,607 288,615 294.5,626" fill="none" stroke="#111" stroke-width="1.8399999999999999" stroke-linejoin="round" stroke-linecap="round" />
<line x1="284.1" y1="599.6" x2="313" y2="594.6" stroke="#111" stroke-width="1.6099999999999999" stroke-linecap="butt"/>
<line x1="285" y1="601.3" x2="315.5" y2="596.2" stroke="#111" stroke-width="1.6099999999999999" stroke-linecap="butt"/>
<line x1="286.7" y1="606.4" x2="318" y2="601.4" stroke="#111" stroke-width="1.6099999999999999" stroke-linecap="butt"/>
<line x1="289.3" y1="612.4" x2="321.5" y2="606.8" stroke="#111" stroke-width="1.6099999999999999" stroke-linecap="butt"/>
<line x1="291.9" y1="618.4" x2="324.5" y2="612.6" stroke="#111" stroke-width="1.6099999999999999" stroke-linecap="butt"/>
<line x1="295.3" y1="622" x2="327" y2="617" stroke="#111" stroke-width="1.6099999999999999" stroke-linecap="butt"/>
<path d="M286,596 L291.5,594.6 L291.8,598.5" fill="none" stroke="#111" stroke-width="1.38" stroke-linejoin="round" stroke-linecap="round"/>
<path d="M306.4,596.1 L308.1,576.4 L314.1,571.3 L314.1,600" fill="none" stroke="#111" stroke-width="1.8399999999999999" stroke-linejoin="round" stroke-linecap="round"/>
<line x1="311" y1="574" x2="311" y2="597" stroke="#111" stroke-width="1.8399999999999999" stroke-linecap="butt"/>
<line x1="313" y1="573" x2="313" y2="598" stroke="#111" stroke-width="1.8399999999999999" stroke-linecap="butt"/>
<path d="M314.1,571.3 C319,575 322,584 324,596 C326,608 329,618 331.5,624" fill="none" stroke="#111" stroke-width="3.9099999999999997" stroke-linejoin="round" stroke-linecap="round" />
<path d="M318,592 C320,604 323,615 326,623" fill="none" stroke="#111" stroke-width="1.38" stroke-linejoin="round" stroke-linecap="round" />
<path d="M321.5,607 C324,614 326,620 328,626" fill="none" stroke="#111" stroke-width="1.15" stroke-linejoin="round" stroke-linecap="round" />
<path d="M296.1,630.4 C297,642 311,653.3 328.7,653.6 C346,653.8 359,644 359.6,632.1" fill="none" stroke="#111" stroke-width="4.14" stroke-linejoin="round" stroke-linecap="round" />
<path d="M296.1,630.4 C302,626 312,624 320,624.6" fill="none" stroke="#111" stroke-width="1.6099999999999999" stroke-linejoin="round" stroke-linecap="round" />
<path d="M332.1,615.5 C345,615.5 355,620 359.6,632.1" fill="none" stroke="#111" stroke-width="1.7249999999999999" stroke-linejoin="round" stroke-linecap="round" />
<ellipse cx="328.7" cy="638.6" rx="23.4" ry="9.6" fill="none" stroke="#111" stroke-width="2.3"/>
<ellipse cx="328.7" cy="639.4" rx="19.5" ry="8.0" fill="none" stroke="#111" stroke-width="1.15"/>
<ellipse cx="328.7" cy="640" rx="15.2" ry="6.3" fill="none" stroke="#111" stroke-width="2.1849999999999996"/>
<circle cx="290.5" cy="630.4" r="3.8" fill="#111"/>
<circle cx="342.4" cy="615.4" r="3.0" fill="#111"/>
<line x1="342.4" y1="615.4" x2="350" y2="617.5" stroke="#111" stroke-width="2.3" stroke-linecap="butt"/>
<path d="M308.1,624.4 L316.7,624.4 L316.7,626.8 L308.1,626.8 Z" fill="#111" stroke="#111" stroke-width="0.575" stroke-linejoin="round" stroke-linecap="round"/>
<line x1="293.2" y1="658" x2="293.2" y2="665" stroke="#111" stroke-width="3.4499999999999997" stroke-linecap="butt"/>
<path d="M289.8,665 L296.59999999999997,665 L296.2,669.4 L290.2,669.4 Z" fill="#111" stroke="#111" stroke-width="1.38" stroke-linejoin="round" stroke-linecap="round"/>
<line x1="341" y1="656.4" x2="341" y2="663.4" stroke="#111" stroke-width="3.4499999999999997" stroke-linecap="butt"/>
<path d="M337.6,663.4 L344.4,663.4 L344.0,667.8 L338.0,667.8 Z" fill="#111" stroke="#111" stroke-width="1.38" stroke-linejoin="round" stroke-linecap="round"/>
<line x1="298" y1="666.5" x2="336.5" y2="666.5" stroke="#111" stroke-width="1.38" stroke-dasharray="7 4" stroke-linecap="butt"/>
<line x1="333" y1="681" x2="333" y2="688.6" stroke="#111" stroke-width="3.4499999999999997" stroke-linecap="butt"/>
<path d="M329.8,688.6 L336.2,688.6 L335.8,693.0 L330.2,693.0 Z" fill="#111" stroke="#111" stroke-width="1.38" stroke-linejoin="round" stroke-linecap="round"/>
<path d="M316.1,730.7 L322.5,728.6 L322.5,736 L329,739 L334.6,734.3 L339.3,735.7 L340.9,738.6 L339.3,742.1 L330,742.3 L316.1,735.6 Z" fill="#111" stroke="#111" stroke-width="1.38" stroke-linejoin="round" stroke-linecap="round"/>
<circle cx="319.3" cy="732.6" r="0.9" fill="#fff"/>
<line x1="333.8" y1="738.6" x2="338.4" y2="737.6" stroke="#fff" stroke-width="1.15" stroke-linecap="butt"/>
<path d="M322.5,724.5 L322.5,736.2 L329.2,739.2 L334.6,736.6 L334.6,724.5 Z" fill="#fff" stroke="#111" stroke-width="1.9549999999999998" stroke-linejoin="round" stroke-linecap="round"/>
<line x1="326.4" y1="726" x2="326.4" y2="737.4" stroke="#111" stroke-width="1.4949999999999999" stroke-linecap="butt"/>
<path d="M329.5,733.2 L334,735.2 L334,738 L329.5,738 Z" fill="#111" stroke="#111" stroke-width="0.575" stroke-linejoin="round" stroke-linecap="round"/>
<ellipse cx="328.4" cy="722.2" rx="8.6" ry="3.4" fill="#fff" stroke="#111" stroke-width="1.6099999999999999"/>
<path d="M318.6,715.4 L318.6,721 L338.2,721 L338.2,715.4 Z" fill="#111" stroke="#111" stroke-width="1.8399999999999999" stroke-linejoin="round" stroke-linecap="round"/>
<ellipse cx="328.4" cy="721" rx="9.8" ry="3.6" fill="#111" stroke="#111" stroke-width="1.15"/>
<ellipse cx="328.4" cy="715.4" rx="9.6" ry="4.1" fill="#fff" stroke="#111" stroke-width="2.1849999999999996"/>
<ellipse cx="328.4" cy="715.6" rx="4.4" ry="1.9" fill="#fff" stroke="#111" stroke-width="1.7249999999999999"/>
<path d="M319.5,719.3 C323,722.2 334,722.2 337.4,719.3" fill="none" stroke="#999" stroke-width="0.69" stroke-linejoin="round" stroke-linecap="round" />
<path d="M320.9,723.6 C324,726.2 333,726.2 336.2,723.6" fill="none" stroke="#fff" stroke-width="1.265" stroke-linejoin="round" stroke-linecap="round" />
<path d="M240.4,766.8 L263.5,761.1 L270.3,757 L293.4,755.6 L300.1,754.3 L354.4,747.5 L362.6,748.9 L382.9,743.4 L397.9,743.4 L406,736.6 L416.6,750.6 L416.6,751.8 L397.9,755.6 L391.1,754.3 L383,752.8 L362.6,757 L354.4,755.6 L300.1,763.8 L293.4,765.1 L275.7,769.2 L264.9,765.3 L240.4,769.2 Z" fill="#fff" stroke="#111" stroke-width="2.1849999999999996" stroke-linejoin="round" stroke-linecap="round"/>
<line x1="270.3" y1="757" x2="278.5" y2="768" stroke="#111" stroke-width="1.6099999999999999" stroke-linecap="butt"/>
<line x1="293.4" y1="755.6" x2="301.6" y2="763.6" stroke="#111" stroke-width="1.6099999999999999" stroke-linecap="butt"/>
<line x1="354.4" y1="747.5" x2="362.6" y2="757" stroke="#111" stroke-width="1.6099999999999999" stroke-linecap="butt"/>
<line x1="382.9" y1="743.4" x2="392" y2="754.3" stroke="#111" stroke-width="1.6099999999999999" stroke-linecap="butt"/>
<line x1="397.9" y1="743.4" x2="408.5" y2="753.2" stroke="#111" stroke-width="1.6099999999999999" stroke-linecap="butt"/>
<line x1="263.5" y1="761.1" x2="269" y2="764" stroke="#111" stroke-width="1.15" stroke-linecap="butt"/>
<line x1="398.5" y1="751.8" x2="414" y2="749.8" stroke="#111" stroke-width="1.15" stroke-linecap="butt"/>
<ellipse cx="319.1" cy="757" rx="3.0" ry="1.4" fill="#111" stroke="#111" stroke-width="0.575" transform="rotate(-6 319.1 757)"/>
<ellipse cx="328.6" cy="756.2" rx="3.0" ry="1.4" fill="#111" stroke="#111" stroke-width="0.575" transform="rotate(-6 328.6 756.2)"/>
<ellipse cx="337.6" cy="755.1" rx="3.0" ry="1.4" fill="#111" stroke="#111" stroke-width="0.575" transform="rotate(-6 337.6 755.1)"/>
<ellipse cx="328.6" cy="780.9" rx="10.7" ry="4.5" fill="#fff" stroke="#111" stroke-width="1.8399999999999999"/>
<ellipse cx="328.6" cy="780.9" rx="2.6" ry="1.3" fill="#111" stroke="#111" stroke-width="0.575"/>
<line x1="328.4" y1="796.5" x2="328.4" y2="812" stroke="#111" stroke-width="4.14" stroke-linecap="round"/>
<path d="M324.5,812 L332.3,812 L331.5,818.6 L325.3,818.6 Z" fill="#111" stroke="#111" stroke-width="0.9199999999999999" stroke-linejoin="round" stroke-linecap="round"/>
</g>
</svg>
</body></html>
